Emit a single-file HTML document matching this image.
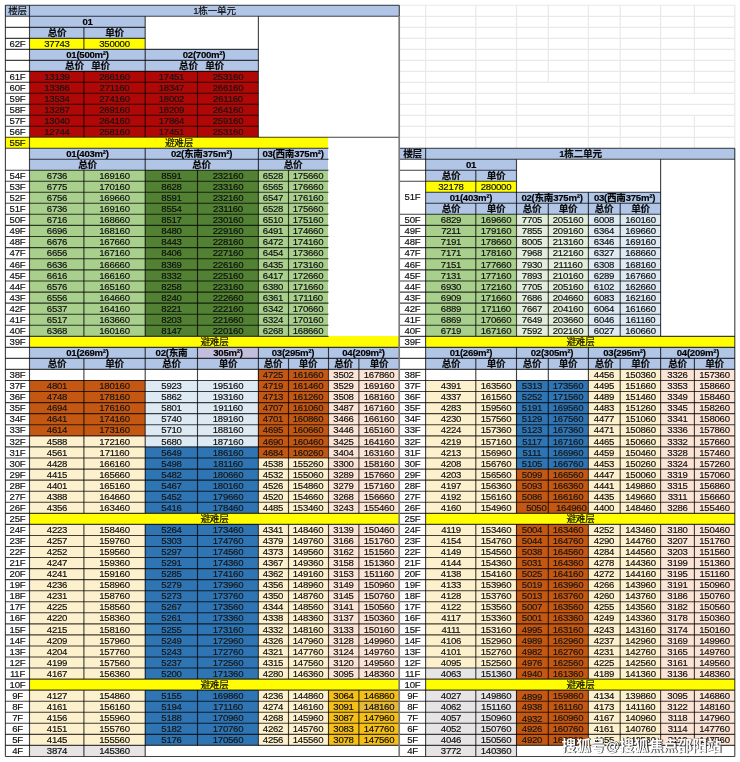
<!DOCTYPE html>
<html><head><meta charset="utf-8"><title>sheet</title>
<style>
html,body{margin:0;padding:0;background:#fff}
body{position:relative;width:740px;height:762px;overflow:hidden;font-family:"Liberation Sans","Noto Sans CJK SC",sans-serif;font-size:9.6px;line-height:11.051px;letter-spacing:-0.25px;color:#0c0c0c}
.c{position:absolute;text-align:center;white-space:nowrap;overflow:hidden;box-sizing:border-box;-webkit-text-stroke:0.16px currentColor}
.c b{font-weight:700}
.bd{font-weight:700;color:#000}
.dk{color:#141414}
.r{text-align:right;padding-right:1.5px}
.sp{display:inline-block;width:7.5px}
svg.ov{position:absolute;left:0;top:0}
#w{position:absolute;left:0;top:0;width:740px;height:762px;will-change:transform}
</style></head>
<body>
<div id="w">
<div class="c" style="left:5px;top:5px;width:25px;height:11px;background:#b1c5e6;line-height:11px;">楼层</div>
<div class="c" style="left:30px;top:5px;width:369px;height:11px;background:#b1c5e6;line-height:11px;">1栋一单元</div>
<div class="c bd" style="left:30px;top:16px;width:115px;height:11px;background:#b1c5e6;line-height:11px;">01</div>
<div class="c" style="left:30px;top:27px;width:54px;height:11px;background:#b1c5e6;line-height:11px;"><b>总价</b></div>
<div class="c" style="left:84px;top:27px;width:61px;height:11px;background:#b1c5e6;line-height:11px;"><b>单价</b></div>
<div class="c" style="left:5px;top:38px;width:25px;height:11px;line-height:11px;">62F</div>
<div class="c" style="left:30px;top:38px;width:54px;height:11px;background:#fffd00;line-height:11px;">37743</div>
<div class="c" style="left:84px;top:38px;width:61px;height:11px;background:#fffd00;line-height:11px;">350000</div>
<div class="c bd" style="left:30px;top:49px;width:115px;height:11px;background:#b1c5e6;line-height:11px;">01(500m²)</div>
<div class="c bd" style="left:145px;top:49px;width:113px;height:11px;background:#b1c5e6;line-height:11px;"><i class="sp" style="width:5px"></i>02(700m²)</div>
<div class="c sh1" style="left:30px;top:60px;width:115px;height:11px;background:#b1c5e6;line-height:11px;"><b>总价</b><i class="sp"></i><b>单价</b></div>
<div class="c sh2" style="left:145px;top:60px;width:113px;height:11px;background:#b1c5e6;line-height:11px;"><b>总价</b><i class="sp"></i><b>单价</b></div>
<div class="c" style="left:5px;top:71px;width:25px;height:11px;line-height:11px;">61F</div>
<div class="c dk" style="left:30px;top:71px;width:54px;height:11px;background:#b00806;line-height:11px;">13139</div>
<div class="c dk" style="left:84px;top:71px;width:61px;height:11px;background:#b00806;line-height:11px;">266160</div>
<div class="c dk" style="left:145px;top:71px;width:53px;height:11px;background:#b00806;line-height:11px;">17451</div>
<div class="c dk" style="left:198px;top:71px;width:60px;height:11px;background:#b00806;line-height:11px;">253160</div>
<div class="c" style="left:5px;top:82px;width:25px;height:11px;line-height:11px;">60F</div>
<div class="c dk" style="left:30px;top:82px;width:54px;height:11px;background:#b00806;line-height:11px;">13386</div>
<div class="c dk" style="left:84px;top:82px;width:61px;height:11px;background:#b00806;line-height:11px;">271160</div>
<div class="c dk" style="left:145px;top:82px;width:53px;height:11px;background:#b00806;line-height:11px;">18347</div>
<div class="c dk" style="left:198px;top:82px;width:60px;height:11px;background:#b00806;line-height:11px;">266160</div>
<div class="c" style="left:5px;top:93px;width:25px;height:11px;line-height:11px;">59F</div>
<div class="c dk" style="left:30px;top:93px;width:54px;height:11px;background:#b00806;line-height:11px;">13534</div>
<div class="c dk" style="left:84px;top:93px;width:61px;height:11px;background:#b00806;line-height:11px;">274160</div>
<div class="c dk" style="left:145px;top:93px;width:53px;height:11px;background:#b00806;line-height:11px;">18002</div>
<div class="c dk" style="left:198px;top:93px;width:60px;height:11px;background:#b00806;line-height:11px;">261160</div>
<div class="c" style="left:5px;top:104px;width:25px;height:11px;line-height:11px;">58F</div>
<div class="c dk" style="left:30px;top:104px;width:54px;height:11px;background:#b00806;line-height:11px;">13287</div>
<div class="c dk" style="left:84px;top:104px;width:61px;height:11px;background:#b00806;line-height:11px;">269160</div>
<div class="c dk" style="left:145px;top:104px;width:53px;height:11px;background:#b00806;line-height:11px;">18209</div>
<div class="c dk" style="left:198px;top:104px;width:60px;height:11px;background:#b00806;line-height:11px;">264160</div>
<div class="c" style="left:5px;top:115px;width:25px;height:11px;line-height:11px;">57F</div>
<div class="c dk" style="left:30px;top:115px;width:54px;height:11px;background:#b00806;line-height:11px;">13040</div>
<div class="c dk" style="left:84px;top:115px;width:61px;height:11px;background:#b00806;line-height:11px;">264160</div>
<div class="c dk" style="left:145px;top:115px;width:53px;height:11px;background:#b00806;line-height:11px;">17864</div>
<div class="c dk" style="left:198px;top:115px;width:60px;height:11px;background:#b00806;line-height:11px;">259160</div>
<div class="c" style="left:5px;top:126px;width:25px;height:11px;line-height:11px;">56F</div>
<div class="c dk" style="left:30px;top:126px;width:54px;height:11px;background:#b00806;line-height:11px;">12744</div>
<div class="c dk" style="left:84px;top:126px;width:61px;height:11px;background:#b00806;line-height:11px;">258160</div>
<div class="c dk" style="left:145px;top:126px;width:53px;height:11px;background:#b00806;line-height:11px;">17451</div>
<div class="c dk" style="left:198px;top:126px;width:60px;height:11px;background:#b00806;line-height:11px;">253160</div>
<div class="c" style="left:5px;top:137px;width:25px;height:11px;background:#fffd00;line-height:11px;">55F</div>
<div class="c" style="left:30px;top:137px;width:298px;height:11px;background:#fffd00;line-height:11px;">避难层</div>
<div class="c bd" style="left:30px;top:148px;width:115px;height:11px;background:#b1c5e6;line-height:11px;">01(403m²)</div>
<div class="c bd" style="left:145px;top:148px;width:113px;height:11px;background:#b1c5e6;line-height:11px;">02(东南375m²)</div>
<div class="c bd" style="left:258px;top:148px;width:70px;height:11px;background:#b1c5e6;line-height:11px;">03(西南375m²)</div>
<div class="c" style="left:30px;top:159px;width:115px;height:11px;background:#b1c5e6;line-height:11px;"><b>总价</b></div>
<div class="c" style="left:145px;top:159px;width:113px;height:11px;background:#b1c5e6;line-height:11px;"><b>总价</b></div>
<div class="c" style="left:258px;top:159px;width:70px;height:11px;background:#b1c5e6;line-height:11px;"><b>总价</b></div>
<div class="c" style="left:5px;top:170px;width:25px;height:11px;line-height:11px;">54F</div>
<div class="c" style="left:30px;top:170px;width:54px;height:11px;background:#a9cf8d;line-height:11px;">6736</div>
<div class="c" style="left:84px;top:170px;width:61px;height:11px;background:#a9cf8d;line-height:11px;">169160</div>
<div class="c" style="left:145px;top:170px;width:53px;height:11px;background:#528133;line-height:11px;">8591</div>
<div class="c" style="left:198px;top:170px;width:60px;height:11px;background:#528133;line-height:11px;">232160</div>
<div class="c" style="left:258px;top:170px;width:30px;height:11px;background:#a9cf8d;line-height:11px;">6528</div>
<div class="c" style="left:288px;top:170px;width:40px;height:11px;background:#a9cf8d;line-height:11px;">175660</div>
<div class="c" style="left:5px;top:181px;width:25px;height:11px;line-height:11px;">53F</div>
<div class="c" style="left:30px;top:181px;width:54px;height:11px;background:#a9cf8d;line-height:11px;">6775</div>
<div class="c" style="left:84px;top:181px;width:61px;height:11px;background:#a9cf8d;line-height:11px;">170160</div>
<div class="c" style="left:145px;top:181px;width:53px;height:11px;background:#528133;line-height:11px;">8628</div>
<div class="c" style="left:198px;top:181px;width:60px;height:11px;background:#528133;line-height:11px;">233160</div>
<div class="c" style="left:258px;top:181px;width:30px;height:11px;background:#a9cf8d;line-height:11px;">6565</div>
<div class="c" style="left:288px;top:181px;width:40px;height:11px;background:#a9cf8d;line-height:11px;">176660</div>
<div class="c" style="left:5px;top:192px;width:25px;height:11px;line-height:11px;">52F</div>
<div class="c" style="left:30px;top:192px;width:54px;height:11px;background:#a9cf8d;line-height:11px;">6756</div>
<div class="c" style="left:84px;top:192px;width:61px;height:11px;background:#a9cf8d;line-height:11px;">169660</div>
<div class="c" style="left:145px;top:192px;width:53px;height:11px;background:#528133;line-height:11px;">8591</div>
<div class="c" style="left:198px;top:192px;width:60px;height:11px;background:#528133;line-height:11px;">232160</div>
<div class="c" style="left:258px;top:192px;width:30px;height:11px;background:#a9cf8d;line-height:11px;">6547</div>
<div class="c" style="left:288px;top:192px;width:40px;height:11px;background:#a9cf8d;line-height:11px;">176160</div>
<div class="c" style="left:5px;top:203px;width:25px;height:11px;line-height:11px;">51F</div>
<div class="c" style="left:30px;top:203px;width:54px;height:11px;background:#a9cf8d;line-height:11px;">6736</div>
<div class="c" style="left:84px;top:203px;width:61px;height:11px;background:#a9cf8d;line-height:11px;">169160</div>
<div class="c" style="left:145px;top:203px;width:53px;height:11px;background:#528133;line-height:11px;">8554</div>
<div class="c" style="left:198px;top:203px;width:60px;height:11px;background:#528133;line-height:11px;">231160</div>
<div class="c" style="left:258px;top:203px;width:30px;height:11px;background:#a9cf8d;line-height:11px;">6528</div>
<div class="c" style="left:288px;top:203px;width:40px;height:11px;background:#a9cf8d;line-height:11px;">175660</div>
<div class="c" style="left:5px;top:214px;width:25px;height:11px;line-height:11px;">50F</div>
<div class="c" style="left:30px;top:214px;width:54px;height:11px;background:#a9cf8d;line-height:11px;">6716</div>
<div class="c" style="left:84px;top:214px;width:61px;height:11px;background:#a9cf8d;line-height:11px;">168660</div>
<div class="c" style="left:145px;top:214px;width:53px;height:11px;background:#528133;line-height:11px;">8517</div>
<div class="c" style="left:198px;top:214px;width:60px;height:11px;background:#528133;line-height:11px;">230160</div>
<div class="c" style="left:258px;top:214px;width:30px;height:11px;background:#a9cf8d;line-height:11px;">6510</div>
<div class="c" style="left:288px;top:214px;width:40px;height:11px;background:#a9cf8d;line-height:11px;">175160</div>
<div class="c" style="left:5px;top:225px;width:25px;height:12px;line-height:11px;">49F</div>
<div class="c" style="left:30px;top:225px;width:54px;height:12px;background:#a9cf8d;line-height:11px;">6696</div>
<div class="c" style="left:84px;top:225px;width:61px;height:12px;background:#a9cf8d;line-height:11px;">168160</div>
<div class="c" style="left:145px;top:225px;width:53px;height:12px;background:#528133;line-height:11px;">8480</div>
<div class="c" style="left:198px;top:225px;width:60px;height:12px;background:#528133;line-height:11px;">229160</div>
<div class="c" style="left:258px;top:225px;width:30px;height:12px;background:#a9cf8d;line-height:11px;">6491</div>
<div class="c" style="left:288px;top:225px;width:40px;height:12px;background:#a9cf8d;line-height:11px;">174660</div>
<div class="c" style="left:5px;top:237px;width:25px;height:11px;line-height:9px;">48F</div>
<div class="c" style="left:30px;top:237px;width:54px;height:11px;background:#a9cf8d;line-height:9px;">6676</div>
<div class="c" style="left:84px;top:237px;width:61px;height:11px;background:#a9cf8d;line-height:9px;">167660</div>
<div class="c" style="left:145px;top:237px;width:53px;height:11px;background:#528133;line-height:9px;">8443</div>
<div class="c" style="left:198px;top:237px;width:60px;height:11px;background:#528133;line-height:9px;">228160</div>
<div class="c" style="left:258px;top:237px;width:30px;height:11px;background:#a9cf8d;line-height:9px;">6472</div>
<div class="c" style="left:288px;top:237px;width:40px;height:11px;background:#a9cf8d;line-height:9px;">174160</div>
<div class="c" style="left:5px;top:248px;width:25px;height:11px;line-height:9px;">47F</div>
<div class="c" style="left:30px;top:248px;width:54px;height:11px;background:#a9cf8d;line-height:9px;">6656</div>
<div class="c" style="left:84px;top:248px;width:61px;height:11px;background:#a9cf8d;line-height:9px;">167160</div>
<div class="c" style="left:145px;top:248px;width:53px;height:11px;background:#528133;line-height:9px;">8406</div>
<div class="c" style="left:198px;top:248px;width:60px;height:11px;background:#528133;line-height:9px;">227160</div>
<div class="c" style="left:258px;top:248px;width:30px;height:11px;background:#a9cf8d;line-height:9px;">6454</div>
<div class="c" style="left:288px;top:248px;width:40px;height:11px;background:#a9cf8d;line-height:9px;">173660</div>
<div class="c" style="left:5px;top:259px;width:25px;height:11px;line-height:11px;">46F</div>
<div class="c" style="left:30px;top:259px;width:54px;height:11px;background:#a9cf8d;line-height:11px;">6636</div>
<div class="c" style="left:84px;top:259px;width:61px;height:11px;background:#a9cf8d;line-height:11px;">166660</div>
<div class="c" style="left:145px;top:259px;width:53px;height:11px;background:#528133;line-height:11px;">8369</div>
<div class="c" style="left:198px;top:259px;width:60px;height:11px;background:#528133;line-height:11px;">226160</div>
<div class="c" style="left:258px;top:259px;width:30px;height:11px;background:#a9cf8d;line-height:11px;">6435</div>
<div class="c" style="left:288px;top:259px;width:40px;height:11px;background:#a9cf8d;line-height:11px;">173160</div>
<div class="c" style="left:5px;top:270px;width:25px;height:11px;line-height:11px;">45F</div>
<div class="c" style="left:30px;top:270px;width:54px;height:11px;background:#a9cf8d;line-height:11px;">6616</div>
<div class="c" style="left:84px;top:270px;width:61px;height:11px;background:#a9cf8d;line-height:11px;">166160</div>
<div class="c" style="left:145px;top:270px;width:53px;height:11px;background:#528133;line-height:11px;">8332</div>
<div class="c" style="left:198px;top:270px;width:60px;height:11px;background:#528133;line-height:11px;">225160</div>
<div class="c" style="left:258px;top:270px;width:30px;height:11px;background:#a9cf8d;line-height:11px;">6417</div>
<div class="c" style="left:288px;top:270px;width:40px;height:11px;background:#a9cf8d;line-height:11px;">172660</div>
<div class="c" style="left:5px;top:281px;width:25px;height:11px;line-height:11px;">44F</div>
<div class="c" style="left:30px;top:281px;width:54px;height:11px;background:#a9cf8d;line-height:11px;">6576</div>
<div class="c" style="left:84px;top:281px;width:61px;height:11px;background:#a9cf8d;line-height:11px;">165160</div>
<div class="c" style="left:145px;top:281px;width:53px;height:11px;background:#528133;line-height:11px;">8258</div>
<div class="c" style="left:198px;top:281px;width:60px;height:11px;background:#528133;line-height:11px;">223160</div>
<div class="c" style="left:258px;top:281px;width:30px;height:11px;background:#a9cf8d;line-height:11px;">6380</div>
<div class="c" style="left:288px;top:281px;width:40px;height:11px;background:#a9cf8d;line-height:11px;">171660</div>
<div class="c" style="left:5px;top:292px;width:25px;height:11px;line-height:11px;">43F</div>
<div class="c" style="left:30px;top:292px;width:54px;height:11px;background:#a9cf8d;line-height:11px;">6556</div>
<div class="c" style="left:84px;top:292px;width:61px;height:11px;background:#a9cf8d;line-height:11px;">164660</div>
<div class="c" style="left:145px;top:292px;width:53px;height:11px;background:#528133;line-height:11px;">8240</div>
<div class="c" style="left:198px;top:292px;width:60px;height:11px;background:#528133;line-height:11px;">222660</div>
<div class="c" style="left:258px;top:292px;width:30px;height:11px;background:#a9cf8d;line-height:11px;">6361</div>
<div class="c" style="left:288px;top:292px;width:40px;height:11px;background:#a9cf8d;line-height:11px;">171160</div>
<div class="c" style="left:5px;top:303px;width:25px;height:11px;line-height:11px;">42F</div>
<div class="c" style="left:30px;top:303px;width:54px;height:11px;background:#a9cf8d;line-height:11px;">6537</div>
<div class="c" style="left:84px;top:303px;width:61px;height:11px;background:#a9cf8d;line-height:11px;">164160</div>
<div class="c" style="left:145px;top:303px;width:53px;height:11px;background:#528133;line-height:11px;">8221</div>
<div class="c" style="left:198px;top:303px;width:60px;height:11px;background:#528133;line-height:11px;">222160</div>
<div class="c" style="left:258px;top:303px;width:30px;height:11px;background:#a9cf8d;line-height:11px;">6342</div>
<div class="c" style="left:288px;top:303px;width:40px;height:11px;background:#a9cf8d;line-height:11px;">170660</div>
<div class="c" style="left:5px;top:314px;width:25px;height:11px;line-height:11px;">41F</div>
<div class="c" style="left:30px;top:314px;width:54px;height:11px;background:#a9cf8d;line-height:11px;">6517</div>
<div class="c" style="left:84px;top:314px;width:61px;height:11px;background:#a9cf8d;line-height:11px;">163660</div>
<div class="c" style="left:145px;top:314px;width:53px;height:11px;background:#528133;line-height:11px;">8203</div>
<div class="c" style="left:198px;top:314px;width:60px;height:11px;background:#528133;line-height:11px;">221660</div>
<div class="c" style="left:258px;top:314px;width:30px;height:11px;background:#a9cf8d;line-height:11px;">6324</div>
<div class="c" style="left:288px;top:314px;width:40px;height:11px;background:#a9cf8d;line-height:11px;">170160</div>
<div class="c" style="left:5px;top:325px;width:25px;height:11px;line-height:11px;">40F</div>
<div class="c" style="left:30px;top:325px;width:54px;height:11px;background:#a9cf8d;line-height:11px;">6368</div>
<div class="c" style="left:84px;top:325px;width:61px;height:11px;background:#a9cf8d;line-height:11px;">160160</div>
<div class="c" style="left:145px;top:325px;width:53px;height:11px;background:#528133;line-height:11px;">8147</div>
<div class="c" style="left:198px;top:325px;width:60px;height:11px;background:#528133;line-height:11px;">220160</div>
<div class="c" style="left:258px;top:325px;width:30px;height:11px;background:#a9cf8d;line-height:11px;">6268</div>
<div class="c" style="left:288px;top:325px;width:40px;height:11px;background:#a9cf8d;line-height:11px;">168660</div>
<div class="c" style="left:5px;top:336px;width:25px;height:11px;line-height:11px;">39F</div>
<div class="c" style="left:30px;top:336px;width:369px;height:11px;background:#fffd00;line-height:11px;">避难层</div>
<div class="c bd" style="left:30px;top:347px;width:115px;height:11px;background:#b1c5e6;line-height:11px;">01(269m²)</div>
<div class="c bd" style="left:145px;top:347px;width:53px;height:11px;background:#b1c5e6;line-height:11px;">02(东南</div>
<div class="c bd" style="left:198px;top:347px;width:60px;height:11px;background:#c3bedc;line-height:11px;">305m²)</div>
<div class="c bd" style="left:258px;top:347px;width:70px;height:11px;background:#b1c5e6;line-height:11px;">03(295m²)</div>
<div class="c bd" style="left:328px;top:347px;width:71px;height:11px;background:#b1c5e6;line-height:11px;">04(209m²)</div>
<div class="c" style="left:30px;top:358px;width:54px;height:11px;background:#b1c5e6;line-height:11px;"><b>总价</b></div>
<div class="c" style="left:84px;top:358px;width:61px;height:11px;background:#b1c5e6;line-height:11px;"><b>单价</b></div>
<div class="c" style="left:145px;top:358px;width:53px;height:11px;background:#b1c5e6;line-height:11px;"><b>总价</b></div>
<div class="c" style="left:198px;top:358px;width:60px;height:11px;background:#b1c5e6;line-height:11px;"><b>单价</b></div>
<div class="c" style="left:258px;top:358px;width:30px;height:11px;background:#b1c5e6;line-height:11px;"><b>总价</b></div>
<div class="c" style="left:288px;top:358px;width:40px;height:11px;background:#b1c5e6;line-height:11px;"><b>单价</b></div>
<div class="c" style="left:328px;top:358px;width:31px;height:11px;background:#b1c5e6;line-height:11px;"><b>总价</b></div>
<div class="c" style="left:359px;top:358px;width:40px;height:11px;background:#b1c5e6;line-height:11px;"><b>单价</b></div>
<div class="c" style="left:5px;top:369px;width:25px;height:11px;line-height:11px;">38F</div>
<div class="c dk" style="left:258px;top:369px;width:30px;height:11px;background:#c45812;line-height:11px;">4725</div>
<div class="c dk" style="left:288px;top:369px;width:40px;height:11px;background:#c45812;line-height:11px;">161660</div>
<div class="c" style="left:328px;top:369px;width:31px;height:11px;background:#fbe3d5;line-height:11px;">3502</div>
<div class="c" style="left:359px;top:369px;width:40px;height:11px;background:#fbe3d5;line-height:11px;">167860</div>
<div class="c" style="left:5px;top:380px;width:25px;height:12px;line-height:11px;">37F</div>
<div class="c dk" style="left:30px;top:380px;width:54px;height:12px;background:#c45812;line-height:11px;">4801</div>
<div class="c dk" style="left:84px;top:380px;width:61px;height:12px;background:#c45812;line-height:11px;">180160</div>
<div class="c" style="left:145px;top:380px;width:53px;height:12px;background:#dde9f3;line-height:11px;">5923</div>
<div class="c" style="left:198px;top:380px;width:60px;height:12px;background:#dde9f3;line-height:11px;">195160</div>
<div class="c dk" style="left:258px;top:380px;width:30px;height:12px;background:#c45812;line-height:11px;">4719</div>
<div class="c dk" style="left:288px;top:380px;width:40px;height:12px;background:#c45812;line-height:11px;">161460</div>
<div class="c" style="left:328px;top:380px;width:31px;height:12px;background:#fbe3d5;line-height:11px;">3529</div>
<div class="c" style="left:359px;top:380px;width:40px;height:12px;background:#fbe3d5;line-height:11px;">169160</div>
<div class="c" style="left:5px;top:392px;width:25px;height:11px;line-height:9px;">36F</div>
<div class="c dk" style="left:30px;top:392px;width:54px;height:11px;background:#c45812;line-height:9px;">4748</div>
<div class="c dk" style="left:84px;top:392px;width:61px;height:11px;background:#c45812;line-height:9px;">178160</div>
<div class="c" style="left:145px;top:392px;width:53px;height:11px;background:#dde9f3;line-height:9px;">5862</div>
<div class="c" style="left:198px;top:392px;width:60px;height:11px;background:#dde9f3;line-height:9px;">193160</div>
<div class="c dk" style="left:258px;top:392px;width:30px;height:11px;background:#c45812;line-height:9px;">4713</div>
<div class="c dk" style="left:288px;top:392px;width:40px;height:11px;background:#c45812;line-height:9px;">161260</div>
<div class="c" style="left:328px;top:392px;width:31px;height:11px;background:#fbe3d5;line-height:9px;">3508</div>
<div class="c" style="left:359px;top:392px;width:40px;height:11px;background:#fbe3d5;line-height:9px;">168160</div>
<div class="c" style="left:5px;top:403px;width:25px;height:11px;line-height:9px;">35F</div>
<div class="c dk" style="left:30px;top:403px;width:54px;height:11px;background:#c45812;line-height:9px;">4694</div>
<div class="c dk" style="left:84px;top:403px;width:61px;height:11px;background:#c45812;line-height:9px;">176160</div>
<div class="c" style="left:145px;top:403px;width:53px;height:11px;background:#dde9f3;line-height:9px;">5801</div>
<div class="c" style="left:198px;top:403px;width:60px;height:11px;background:#dde9f3;line-height:9px;">191160</div>
<div class="c dk" style="left:258px;top:403px;width:30px;height:11px;background:#c45812;line-height:9px;">4707</div>
<div class="c dk" style="left:288px;top:403px;width:40px;height:11px;background:#c45812;line-height:9px;">161060</div>
<div class="c" style="left:328px;top:403px;width:31px;height:11px;background:#fbe3d5;line-height:9px;">3487</div>
<div class="c" style="left:359px;top:403px;width:40px;height:11px;background:#fbe3d5;line-height:9px;">167160</div>
<div class="c" style="left:5px;top:414px;width:25px;height:11px;line-height:9px;">34F</div>
<div class="c dk" style="left:30px;top:414px;width:54px;height:11px;background:#c45812;line-height:9px;">4641</div>
<div class="c dk" style="left:84px;top:414px;width:61px;height:11px;background:#c45812;line-height:9px;">174160</div>
<div class="c" style="left:145px;top:414px;width:53px;height:11px;background:#dde9f3;line-height:9px;">5740</div>
<div class="c" style="left:198px;top:414px;width:60px;height:11px;background:#dde9f3;line-height:9px;">189160</div>
<div class="c dk" style="left:258px;top:414px;width:30px;height:11px;background:#c45812;line-height:9px;">4701</div>
<div class="c dk" style="left:288px;top:414px;width:40px;height:11px;background:#c45812;line-height:9px;">160860</div>
<div class="c" style="left:328px;top:414px;width:31px;height:11px;background:#fbe3d5;line-height:9px;">3466</div>
<div class="c" style="left:359px;top:414px;width:40px;height:11px;background:#fbe3d5;line-height:9px;">166160</div>
<div class="c" style="left:5px;top:425px;width:25px;height:11px;line-height:9px;">33F</div>
<div class="c dk" style="left:30px;top:425px;width:54px;height:11px;background:#c45812;line-height:9px;">4614</div>
<div class="c dk" style="left:84px;top:425px;width:61px;height:11px;background:#c45812;line-height:9px;">173160</div>
<div class="c" style="left:145px;top:425px;width:53px;height:11px;background:#dde9f3;line-height:9px;">5710</div>
<div class="c" style="left:198px;top:425px;width:60px;height:11px;background:#dde9f3;line-height:9px;">188160</div>
<div class="c dk" style="left:258px;top:425px;width:30px;height:11px;background:#c45812;line-height:9px;">4695</div>
<div class="c dk" style="left:288px;top:425px;width:40px;height:11px;background:#c45812;line-height:9px;">160660</div>
<div class="c" style="left:328px;top:425px;width:31px;height:11px;background:#fbe3d5;line-height:9px;">3446</div>
<div class="c" style="left:359px;top:425px;width:40px;height:11px;background:#fbe3d5;line-height:9px;">165160</div>
<div class="c" style="left:5px;top:436px;width:25px;height:11px;line-height:11px;">32F</div>
<div class="c" style="left:30px;top:436px;width:54px;height:11px;background:#fdf0cd;line-height:11px;">4588</div>
<div class="c" style="left:84px;top:436px;width:61px;height:11px;background:#fdf0cd;line-height:11px;">172160</div>
<div class="c" style="left:145px;top:436px;width:53px;height:11px;background:#dde9f3;line-height:11px;">5680</div>
<div class="c" style="left:198px;top:436px;width:60px;height:11px;background:#dde9f3;line-height:11px;">187160</div>
<div class="c dk" style="left:258px;top:436px;width:30px;height:11px;background:#c45812;line-height:11px;">4690</div>
<div class="c dk" style="left:288px;top:436px;width:40px;height:11px;background:#c45812;line-height:11px;">160460</div>
<div class="c" style="left:328px;top:436px;width:31px;height:11px;background:#fbe3d5;line-height:11px;">3425</div>
<div class="c" style="left:359px;top:436px;width:40px;height:11px;background:#fbe3d5;line-height:11px;">164160</div>
<div class="c" style="left:5px;top:447px;width:25px;height:11px;line-height:11px;">31F</div>
<div class="c" style="left:30px;top:447px;width:54px;height:11px;background:#fdf0cd;line-height:11px;">4561</div>
<div class="c" style="left:84px;top:447px;width:61px;height:11px;background:#fdf0cd;line-height:11px;">171160</div>
<div class="c dk" style="left:145px;top:447px;width:53px;height:11px;background:#2f74b3;line-height:11px;">5649</div>
<div class="c dk" style="left:198px;top:447px;width:60px;height:11px;background:#2f74b3;line-height:11px;">186160</div>
<div class="c dk" style="left:258px;top:447px;width:30px;height:11px;background:#c45812;line-height:11px;">4684</div>
<div class="c dk" style="left:288px;top:447px;width:40px;height:11px;background:#c45812;line-height:11px;">160260</div>
<div class="c" style="left:328px;top:447px;width:31px;height:11px;background:#fbe3d5;line-height:11px;">3404</div>
<div class="c" style="left:359px;top:447px;width:40px;height:11px;background:#fbe3d5;line-height:11px;">163160</div>
<div class="c" style="left:5px;top:458px;width:25px;height:11px;line-height:11px;">30F</div>
<div class="c" style="left:30px;top:458px;width:54px;height:11px;background:#fdf0cd;line-height:11px;">4428</div>
<div class="c" style="left:84px;top:458px;width:61px;height:11px;background:#fdf0cd;line-height:11px;">166160</div>
<div class="c dk" style="left:145px;top:458px;width:53px;height:11px;background:#2f74b3;line-height:11px;">5498</div>
<div class="c dk" style="left:198px;top:458px;width:60px;height:11px;background:#2f74b3;line-height:11px;">181160</div>
<div class="c" style="left:258px;top:458px;width:30px;height:11px;background:#fdf0cd;line-height:11px;">4538</div>
<div class="c" style="left:288px;top:458px;width:40px;height:11px;background:#fdf0cd;line-height:11px;">155260</div>
<div class="c" style="left:328px;top:458px;width:31px;height:11px;background:#fbe3d5;line-height:11px;">3300</div>
<div class="c" style="left:359px;top:458px;width:40px;height:11px;background:#fbe3d5;line-height:11px;">158160</div>
<div class="c" style="left:5px;top:469px;width:25px;height:11px;line-height:11px;">29F</div>
<div class="c" style="left:30px;top:469px;width:54px;height:11px;background:#fdf0cd;line-height:11px;">4415</div>
<div class="c" style="left:84px;top:469px;width:61px;height:11px;background:#fdf0cd;line-height:11px;">165660</div>
<div class="c dk" style="left:145px;top:469px;width:53px;height:11px;background:#2f74b3;line-height:11px;">5482</div>
<div class="c dk" style="left:198px;top:469px;width:60px;height:11px;background:#2f74b3;line-height:11px;">180660</div>
<div class="c" style="left:258px;top:469px;width:30px;height:11px;background:#fdf0cd;line-height:11px;">4532</div>
<div class="c" style="left:288px;top:469px;width:40px;height:11px;background:#fdf0cd;line-height:11px;">155060</div>
<div class="c" style="left:328px;top:469px;width:31px;height:11px;background:#fbe3d5;line-height:11px;">3289</div>
<div class="c" style="left:359px;top:469px;width:40px;height:11px;background:#fbe3d5;line-height:11px;">157660</div>
<div class="c" style="left:5px;top:480px;width:25px;height:11px;line-height:11px;">28F</div>
<div class="c" style="left:30px;top:480px;width:54px;height:11px;background:#fdf0cd;line-height:11px;">4401</div>
<div class="c" style="left:84px;top:480px;width:61px;height:11px;background:#fdf0cd;line-height:11px;">165160</div>
<div class="c dk" style="left:145px;top:480px;width:53px;height:11px;background:#2f74b3;line-height:11px;">5467</div>
<div class="c dk" style="left:198px;top:480px;width:60px;height:11px;background:#2f74b3;line-height:11px;">180160</div>
<div class="c" style="left:258px;top:480px;width:30px;height:11px;background:#fdf0cd;line-height:11px;">4526</div>
<div class="c" style="left:288px;top:480px;width:40px;height:11px;background:#fdf0cd;line-height:11px;">154860</div>
<div class="c" style="left:328px;top:480px;width:31px;height:11px;background:#fbe3d5;line-height:11px;">3279</div>
<div class="c" style="left:359px;top:480px;width:40px;height:11px;background:#fbe3d5;line-height:11px;">157160</div>
<div class="c" style="left:5px;top:491px;width:25px;height:11px;line-height:11px;">27F</div>
<div class="c" style="left:30px;top:491px;width:54px;height:11px;background:#fdf0cd;line-height:11px;">4388</div>
<div class="c" style="left:84px;top:491px;width:61px;height:11px;background:#fdf0cd;line-height:11px;">164660</div>
<div class="c dk" style="left:145px;top:491px;width:53px;height:11px;background:#2f74b3;line-height:11px;">5452</div>
<div class="c dk" style="left:198px;top:491px;width:60px;height:11px;background:#2f74b3;line-height:11px;">179660</div>
<div class="c" style="left:258px;top:491px;width:30px;height:11px;background:#fdf0cd;line-height:11px;">4520</div>
<div class="c" style="left:288px;top:491px;width:40px;height:11px;background:#fdf0cd;line-height:11px;">154660</div>
<div class="c" style="left:328px;top:491px;width:31px;height:11px;background:#fbe3d5;line-height:11px;">3268</div>
<div class="c" style="left:359px;top:491px;width:40px;height:11px;background:#fbe3d5;line-height:11px;">156660</div>
<div class="c" style="left:5px;top:502px;width:25px;height:11px;line-height:11px;">26F</div>
<div class="c" style="left:30px;top:502px;width:54px;height:11px;background:#fdf0cd;line-height:11px;">4356</div>
<div class="c" style="left:84px;top:502px;width:61px;height:11px;background:#fdf0cd;line-height:11px;">163460</div>
<div class="c dk" style="left:145px;top:502px;width:53px;height:11px;background:#2f74b3;line-height:11px;">5416</div>
<div class="c dk" style="left:198px;top:502px;width:60px;height:11px;background:#2f74b3;line-height:11px;">178460</div>
<div class="c" style="left:258px;top:502px;width:30px;height:11px;background:#fdf0cd;line-height:11px;">4485</div>
<div class="c" style="left:288px;top:502px;width:40px;height:11px;background:#fdf0cd;line-height:11px;">153460</div>
<div class="c" style="left:328px;top:502px;width:31px;height:11px;background:#fbe3d5;line-height:11px;">3243</div>
<div class="c" style="left:359px;top:502px;width:40px;height:11px;background:#fbe3d5;line-height:11px;">155460</div>
<div class="c" style="left:5px;top:513px;width:25px;height:11px;line-height:11px;">25F</div>
<div class="c" style="left:30px;top:513px;width:369px;height:11px;background:#fffd00;line-height:11px;">避难层</div>
<div class="c" style="left:5px;top:524px;width:25px;height:11px;line-height:11px;">24F</div>
<div class="c" style="left:30px;top:524px;width:54px;height:11px;background:#fdf0cd;line-height:11px;">4223</div>
<div class="c" style="left:84px;top:524px;width:61px;height:11px;background:#fdf0cd;line-height:11px;">158460</div>
<div class="c dk" style="left:145px;top:524px;width:53px;height:11px;background:#2f74b3;line-height:11px;">5264</div>
<div class="c dk" style="left:198px;top:524px;width:60px;height:11px;background:#2f74b3;line-height:11px;">173460</div>
<div class="c" style="left:258px;top:524px;width:30px;height:11px;background:#fdf0cd;line-height:11px;">4341</div>
<div class="c" style="left:288px;top:524px;width:40px;height:11px;background:#fdf0cd;line-height:11px;">148460</div>
<div class="c" style="left:328px;top:524px;width:31px;height:11px;background:#fbe3d5;line-height:11px;">3139</div>
<div class="c" style="left:359px;top:524px;width:40px;height:11px;background:#fbe3d5;line-height:11px;">150460</div>
<div class="c" style="left:5px;top:535px;width:25px;height:11px;line-height:11px;">23F</div>
<div class="c" style="left:30px;top:535px;width:54px;height:11px;background:#fdf0cd;line-height:11px;">4257</div>
<div class="c" style="left:84px;top:535px;width:61px;height:11px;background:#fdf0cd;line-height:11px;">159760</div>
<div class="c dk" style="left:145px;top:535px;width:53px;height:11px;background:#2f74b3;line-height:11px;">5303</div>
<div class="c dk" style="left:198px;top:535px;width:60px;height:11px;background:#2f74b3;line-height:11px;">174760</div>
<div class="c" style="left:258px;top:535px;width:30px;height:11px;background:#fdf0cd;line-height:11px;">4379</div>
<div class="c" style="left:288px;top:535px;width:40px;height:11px;background:#fdf0cd;line-height:11px;">149760</div>
<div class="c" style="left:328px;top:535px;width:31px;height:11px;background:#fbe3d5;line-height:11px;">3166</div>
<div class="c" style="left:359px;top:535px;width:40px;height:11px;background:#fbe3d5;line-height:11px;">151760</div>
<div class="c" style="left:5px;top:546px;width:25px;height:12px;line-height:11px;">22F</div>
<div class="c" style="left:30px;top:546px;width:54px;height:12px;background:#fdf0cd;line-height:11px;">4252</div>
<div class="c" style="left:84px;top:546px;width:61px;height:12px;background:#fdf0cd;line-height:11px;">159560</div>
<div class="c dk" style="left:145px;top:546px;width:53px;height:12px;background:#2f74b3;line-height:11px;">5297</div>
<div class="c dk" style="left:198px;top:546px;width:60px;height:12px;background:#2f74b3;line-height:11px;">174560</div>
<div class="c" style="left:258px;top:546px;width:30px;height:12px;background:#fdf0cd;line-height:11px;">4373</div>
<div class="c" style="left:288px;top:546px;width:40px;height:12px;background:#fdf0cd;line-height:11px;">149560</div>
<div class="c" style="left:328px;top:546px;width:31px;height:12px;background:#fbe3d5;line-height:11px;">3162</div>
<div class="c" style="left:359px;top:546px;width:40px;height:12px;background:#fbe3d5;line-height:11px;">151560</div>
<div class="c" style="left:5px;top:558px;width:25px;height:11px;line-height:9px;">21F</div>
<div class="c" style="left:30px;top:558px;width:54px;height:11px;background:#fdf0cd;line-height:9px;">4247</div>
<div class="c" style="left:84px;top:558px;width:61px;height:11px;background:#fdf0cd;line-height:9px;">159360</div>
<div class="c dk" style="left:145px;top:558px;width:53px;height:11px;background:#2f74b3;line-height:9px;">5291</div>
<div class="c dk" style="left:198px;top:558px;width:60px;height:11px;background:#2f74b3;line-height:9px;">174360</div>
<div class="c" style="left:258px;top:558px;width:30px;height:11px;background:#fdf0cd;line-height:9px;">4367</div>
<div class="c" style="left:288px;top:558px;width:40px;height:11px;background:#fdf0cd;line-height:9px;">149360</div>
<div class="c" style="left:328px;top:558px;width:31px;height:11px;background:#fbe3d5;line-height:9px;">3158</div>
<div class="c" style="left:359px;top:558px;width:40px;height:11px;background:#fbe3d5;line-height:9px;">151360</div>
<div class="c" style="left:5px;top:569px;width:25px;height:11px;line-height:9px;">20F</div>
<div class="c" style="left:30px;top:569px;width:54px;height:11px;background:#fdf0cd;line-height:9px;">4241</div>
<div class="c" style="left:84px;top:569px;width:61px;height:11px;background:#fdf0cd;line-height:9px;">159160</div>
<div class="c dk" style="left:145px;top:569px;width:53px;height:11px;background:#2f74b3;line-height:9px;">5285</div>
<div class="c dk" style="left:198px;top:569px;width:60px;height:11px;background:#2f74b3;line-height:9px;">174160</div>
<div class="c" style="left:258px;top:569px;width:30px;height:11px;background:#fdf0cd;line-height:9px;">4362</div>
<div class="c" style="left:288px;top:569px;width:40px;height:11px;background:#fdf0cd;line-height:9px;">149160</div>
<div class="c" style="left:328px;top:569px;width:31px;height:11px;background:#fbe3d5;line-height:9px;">3153</div>
<div class="c" style="left:359px;top:569px;width:40px;height:11px;background:#fbe3d5;line-height:9px;">151160</div>
<div class="c" style="left:5px;top:580px;width:25px;height:11px;line-height:9px;">19F</div>
<div class="c" style="left:30px;top:580px;width:54px;height:11px;background:#fdf0cd;line-height:9px;">4236</div>
<div class="c" style="left:84px;top:580px;width:61px;height:11px;background:#fdf0cd;line-height:9px;">158960</div>
<div class="c dk" style="left:145px;top:580px;width:53px;height:11px;background:#2f74b3;line-height:9px;">5279</div>
<div class="c dk" style="left:198px;top:580px;width:60px;height:11px;background:#2f74b3;line-height:9px;">173960</div>
<div class="c" style="left:258px;top:580px;width:30px;height:11px;background:#fdf0cd;line-height:9px;">4356</div>
<div class="c" style="left:288px;top:580px;width:40px;height:11px;background:#fdf0cd;line-height:9px;">148960</div>
<div class="c" style="left:328px;top:580px;width:31px;height:11px;background:#fbe3d5;line-height:9px;">3149</div>
<div class="c" style="left:359px;top:580px;width:40px;height:11px;background:#fbe3d5;line-height:9px;">150960</div>
<div class="c" style="left:5px;top:591px;width:25px;height:11px;line-height:9px;">18F</div>
<div class="c" style="left:30px;top:591px;width:54px;height:11px;background:#fdf0cd;line-height:9px;">4231</div>
<div class="c" style="left:84px;top:591px;width:61px;height:11px;background:#fdf0cd;line-height:9px;">158760</div>
<div class="c dk" style="left:145px;top:591px;width:53px;height:11px;background:#2f74b3;line-height:9px;">5273</div>
<div class="c dk" style="left:198px;top:591px;width:60px;height:11px;background:#2f74b3;line-height:9px;">173760</div>
<div class="c" style="left:258px;top:591px;width:30px;height:11px;background:#fdf0cd;line-height:9px;">4350</div>
<div class="c" style="left:288px;top:591px;width:40px;height:11px;background:#fdf0cd;line-height:9px;">148760</div>
<div class="c" style="left:328px;top:591px;width:31px;height:11px;background:#fbe3d5;line-height:9px;">3145</div>
<div class="c" style="left:359px;top:591px;width:40px;height:11px;background:#fbe3d5;line-height:9px;">150760</div>
<div class="c" style="left:5px;top:602px;width:25px;height:11px;line-height:9px;">17F</div>
<div class="c" style="left:30px;top:602px;width:54px;height:11px;background:#fdf0cd;line-height:9px;">4225</div>
<div class="c" style="left:84px;top:602px;width:61px;height:11px;background:#fdf0cd;line-height:9px;">158560</div>
<div class="c dk" style="left:145px;top:602px;width:53px;height:11px;background:#2f74b3;line-height:9px;">5267</div>
<div class="c dk" style="left:198px;top:602px;width:60px;height:11px;background:#2f74b3;line-height:9px;">173560</div>
<div class="c" style="left:258px;top:602px;width:30px;height:11px;background:#fdf0cd;line-height:9px;">4344</div>
<div class="c" style="left:288px;top:602px;width:40px;height:11px;background:#fdf0cd;line-height:9px;">148560</div>
<div class="c" style="left:328px;top:602px;width:31px;height:11px;background:#fbe3d5;line-height:9px;">3141</div>
<div class="c" style="left:359px;top:602px;width:40px;height:11px;background:#fbe3d5;line-height:9px;">150560</div>
<div class="c" style="left:5px;top:613px;width:25px;height:11px;line-height:9px;">16F</div>
<div class="c" style="left:30px;top:613px;width:54px;height:11px;background:#fdf0cd;line-height:9px;">4220</div>
<div class="c" style="left:84px;top:613px;width:61px;height:11px;background:#fdf0cd;line-height:9px;">158360</div>
<div class="c dk" style="left:145px;top:613px;width:53px;height:11px;background:#2f74b3;line-height:9px;">5261</div>
<div class="c dk" style="left:198px;top:613px;width:60px;height:11px;background:#2f74b3;line-height:9px;">173360</div>
<div class="c" style="left:258px;top:613px;width:30px;height:11px;background:#fdf0cd;line-height:9px;">4338</div>
<div class="c" style="left:288px;top:613px;width:40px;height:11px;background:#fdf0cd;line-height:9px;">148360</div>
<div class="c" style="left:328px;top:613px;width:31px;height:11px;background:#fbe3d5;line-height:9px;">3137</div>
<div class="c" style="left:359px;top:613px;width:40px;height:11px;background:#fbe3d5;line-height:9px;">150360</div>
<div class="c" style="left:5px;top:624px;width:25px;height:11px;line-height:11px;">15F</div>
<div class="c" style="left:30px;top:624px;width:54px;height:11px;background:#fdf0cd;line-height:11px;">4215</div>
<div class="c" style="left:84px;top:624px;width:61px;height:11px;background:#fdf0cd;line-height:11px;">158160</div>
<div class="c dk" style="left:145px;top:624px;width:53px;height:11px;background:#2f74b3;line-height:11px;">5255</div>
<div class="c dk" style="left:198px;top:624px;width:60px;height:11px;background:#2f74b3;line-height:11px;">173160</div>
<div class="c" style="left:258px;top:624px;width:30px;height:11px;background:#fdf0cd;line-height:11px;">4332</div>
<div class="c" style="left:288px;top:624px;width:40px;height:11px;background:#fdf0cd;line-height:11px;">148160</div>
<div class="c" style="left:328px;top:624px;width:31px;height:11px;background:#fbe3d5;line-height:11px;">3133</div>
<div class="c" style="left:359px;top:624px;width:40px;height:11px;background:#fbe3d5;line-height:11px;">150160</div>
<div class="c" style="left:5px;top:635px;width:25px;height:11px;line-height:11px;">14F</div>
<div class="c" style="left:30px;top:635px;width:54px;height:11px;background:#fdf0cd;line-height:11px;">4209</div>
<div class="c" style="left:84px;top:635px;width:61px;height:11px;background:#fdf0cd;line-height:11px;">157960</div>
<div class="c dk" style="left:145px;top:635px;width:53px;height:11px;background:#2f74b3;line-height:11px;">5249</div>
<div class="c dk" style="left:198px;top:635px;width:60px;height:11px;background:#2f74b3;line-height:11px;">172960</div>
<div class="c" style="left:258px;top:635px;width:30px;height:11px;background:#fdf0cd;line-height:11px;">4326</div>
<div class="c" style="left:288px;top:635px;width:40px;height:11px;background:#fdf0cd;line-height:11px;">147960</div>
<div class="c" style="left:328px;top:635px;width:31px;height:11px;background:#fbe3d5;line-height:11px;">3128</div>
<div class="c" style="left:359px;top:635px;width:40px;height:11px;background:#fbe3d5;line-height:11px;">149960</div>
<div class="c" style="left:5px;top:646px;width:25px;height:11px;line-height:11px;">13F</div>
<div class="c" style="left:30px;top:646px;width:54px;height:11px;background:#fdf0cd;line-height:11px;">4204</div>
<div class="c" style="left:84px;top:646px;width:61px;height:11px;background:#fdf0cd;line-height:11px;">157760</div>
<div class="c dk" style="left:145px;top:646px;width:53px;height:11px;background:#2f74b3;line-height:11px;">5243</div>
<div class="c dk" style="left:198px;top:646px;width:60px;height:11px;background:#2f74b3;line-height:11px;">172760</div>
<div class="c" style="left:258px;top:646px;width:30px;height:11px;background:#fdf0cd;line-height:11px;">4321</div>
<div class="c" style="left:288px;top:646px;width:40px;height:11px;background:#fdf0cd;line-height:11px;">147760</div>
<div class="c" style="left:328px;top:646px;width:31px;height:11px;background:#fbe3d5;line-height:11px;">3124</div>
<div class="c" style="left:359px;top:646px;width:40px;height:11px;background:#fbe3d5;line-height:11px;">149760</div>
<div class="c" style="left:5px;top:657px;width:25px;height:11px;line-height:11px;">12F</div>
<div class="c" style="left:30px;top:657px;width:54px;height:11px;background:#fdf0cd;line-height:11px;">4199</div>
<div class="c" style="left:84px;top:657px;width:61px;height:11px;background:#fdf0cd;line-height:11px;">157560</div>
<div class="c dk" style="left:145px;top:657px;width:53px;height:11px;background:#2f74b3;line-height:11px;">5237</div>
<div class="c dk" style="left:198px;top:657px;width:60px;height:11px;background:#2f74b3;line-height:11px;">172560</div>
<div class="c" style="left:258px;top:657px;width:30px;height:11px;background:#fdf0cd;line-height:11px;">4315</div>
<div class="c" style="left:288px;top:657px;width:40px;height:11px;background:#fdf0cd;line-height:11px;">147560</div>
<div class="c" style="left:328px;top:657px;width:31px;height:11px;background:#fbe3d5;line-height:11px;">3120</div>
<div class="c" style="left:359px;top:657px;width:40px;height:11px;background:#fbe3d5;line-height:11px;">149560</div>
<div class="c" style="left:5px;top:668px;width:25px;height:11px;line-height:11px;">11F</div>
<div class="c" style="left:30px;top:668px;width:54px;height:11px;background:#fdf0cd;line-height:11px;">4167</div>
<div class="c" style="left:84px;top:668px;width:61px;height:11px;background:#fdf0cd;line-height:11px;">156360</div>
<div class="c dk" style="left:145px;top:668px;width:53px;height:11px;background:#2f74b3;line-height:11px;">5200</div>
<div class="c dk" style="left:198px;top:668px;width:60px;height:11px;background:#2f74b3;line-height:11px;">171360</div>
<div class="c" style="left:258px;top:668px;width:30px;height:11px;background:#fdf0cd;line-height:11px;">4280</div>
<div class="c" style="left:288px;top:668px;width:40px;height:11px;background:#fdf0cd;line-height:11px;">146360</div>
<div class="c" style="left:328px;top:668px;width:31px;height:11px;background:#fbe3d5;line-height:11px;">3095</div>
<div class="c" style="left:359px;top:668px;width:40px;height:11px;background:#fbe3d5;line-height:11px;">148360</div>
<div class="c" style="left:5px;top:679px;width:25px;height:11px;line-height:11px;">10F</div>
<div class="c" style="left:30px;top:679px;width:369px;height:11px;background:#fffd00;line-height:11px;">避难层</div>
<div class="c" style="left:5px;top:690px;width:25px;height:11px;line-height:11px;">9F</div>
<div class="c" style="left:30px;top:690px;width:54px;height:11px;background:#fdf0cd;line-height:11px;">4127</div>
<div class="c" style="left:84px;top:690px;width:61px;height:11px;background:#fdf0cd;line-height:11px;">154860</div>
<div class="c dk" style="left:145px;top:690px;width:53px;height:11px;background:#2f74b3;line-height:11px;">5155</div>
<div class="c dk" style="left:198px;top:690px;width:60px;height:11px;background:#2f74b3;line-height:11px;">169860</div>
<div class="c" style="left:258px;top:690px;width:30px;height:11px;background:#fdf0cd;line-height:11px;">4236</div>
<div class="c" style="left:288px;top:690px;width:40px;height:11px;background:#fdf0cd;line-height:11px;">144860</div>
<div class="c" style="left:328px;top:690px;width:31px;height:11px;background:#f4bf18;line-height:11px;">3064</div>
<div class="c" style="left:359px;top:690px;width:40px;height:11px;background:#f4bf18;line-height:11px;">146860</div>
<div class="c" style="left:5px;top:701px;width:25px;height:11px;line-height:11px;">8F</div>
<div class="c" style="left:30px;top:701px;width:54px;height:11px;background:#fdf0cd;line-height:11px;">4161</div>
<div class="c" style="left:84px;top:701px;width:61px;height:11px;background:#fdf0cd;line-height:11px;">156160</div>
<div class="c dk" style="left:145px;top:701px;width:53px;height:11px;background:#2f74b3;line-height:11px;">5194</div>
<div class="c dk" style="left:198px;top:701px;width:60px;height:11px;background:#2f74b3;line-height:11px;">171160</div>
<div class="c" style="left:258px;top:701px;width:30px;height:11px;background:#fdf0cd;line-height:11px;">4274</div>
<div class="c" style="left:288px;top:701px;width:40px;height:11px;background:#fdf0cd;line-height:11px;">146160</div>
<div class="c" style="left:328px;top:701px;width:31px;height:11px;background:#f4bf18;line-height:11px;">3091</div>
<div class="c" style="left:359px;top:701px;width:40px;height:11px;background:#e4b83c;line-height:11px;">148160</div>
<div class="c" style="left:5px;top:712px;width:25px;height:11px;line-height:11px;">7F</div>
<div class="c" style="left:30px;top:712px;width:54px;height:11px;background:#fdf0cd;line-height:11px;">4156</div>
<div class="c" style="left:84px;top:712px;width:61px;height:11px;background:#fdf0cd;line-height:11px;">155960</div>
<div class="c dk" style="left:145px;top:712px;width:53px;height:11px;background:#2f74b3;line-height:11px;">5188</div>
<div class="c dk" style="left:198px;top:712px;width:60px;height:11px;background:#2f74b3;line-height:11px;">170960</div>
<div class="c" style="left:258px;top:712px;width:30px;height:11px;background:#fdf0cd;line-height:11px;">4268</div>
<div class="c" style="left:288px;top:712px;width:40px;height:11px;background:#fdf0cd;line-height:11px;">145960</div>
<div class="c" style="left:328px;top:712px;width:31px;height:11px;background:#f4bf18;line-height:11px;">3087</div>
<div class="c" style="left:359px;top:712px;width:40px;height:11px;background:#f4bf18;line-height:11px;">147960</div>
<div class="c" style="left:5px;top:723px;width:25px;height:11px;line-height:11px;">6F</div>
<div class="c" style="left:30px;top:723px;width:54px;height:11px;background:#fdf0cd;line-height:11px;">4151</div>
<div class="c" style="left:84px;top:723px;width:61px;height:11px;background:#fdf0cd;line-height:11px;">155760</div>
<div class="c dk" style="left:145px;top:723px;width:53px;height:11px;background:#2f74b3;line-height:11px;">5182</div>
<div class="c dk" style="left:198px;top:723px;width:60px;height:11px;background:#2f74b3;line-height:11px;">170760</div>
<div class="c" style="left:258px;top:723px;width:30px;height:11px;background:#fdf0cd;line-height:11px;">4262</div>
<div class="c" style="left:288px;top:723px;width:40px;height:11px;background:#fdf0cd;line-height:11px;">145760</div>
<div class="c" style="left:328px;top:723px;width:31px;height:11px;background:#f4bf18;line-height:11px;">3083</div>
<div class="c" style="left:359px;top:723px;width:40px;height:11px;background:#f4bf18;line-height:11px;">147760</div>
<div class="c" style="left:5px;top:734px;width:25px;height:11px;line-height:11px;">5F</div>
<div class="c" style="left:30px;top:734px;width:54px;height:11px;background:#fdf0cd;line-height:11px;">4145</div>
<div class="c" style="left:84px;top:734px;width:61px;height:11px;background:#fdf0cd;line-height:11px;">155560</div>
<div class="c dk" style="left:145px;top:734px;width:53px;height:11px;background:#2f74b3;line-height:11px;">5176</div>
<div class="c dk" style="left:198px;top:734px;width:60px;height:11px;background:#2f74b3;line-height:11px;">170560</div>
<div class="c" style="left:258px;top:734px;width:30px;height:11px;background:#fdf0cd;line-height:11px;">4256</div>
<div class="c" style="left:288px;top:734px;width:40px;height:11px;background:#fdf0cd;line-height:11px;">145560</div>
<div class="c" style="left:328px;top:734px;width:31px;height:11px;background:#f4bf18;line-height:11px;">3078</div>
<div class="c" style="left:359px;top:734px;width:40px;height:11px;background:#f4bf18;line-height:11px;">147560</div>
<div class="c" style="left:5px;top:745px;width:25px;height:11px;line-height:11px;">4F</div>
<div class="c" style="left:30px;top:745px;width:54px;height:11px;background:#e6e4e4;line-height:11px;">3874</div>
<div class="c" style="left:84px;top:745px;width:61px;height:11px;background:#e6e4e4;line-height:11px;">145360</div>
<div class="c" style="left:399px;top:148px;width:27px;height:11px;background:#b1c5e6;line-height:11px;"><b>楼层</b></div>
<div class="c" style="left:426px;top:148px;width:309px;height:11px;background:#b1c5e6;line-height:11px;"><b>1栋二单元</b></div>
<div class="c bd" style="left:426px;top:159px;width:90px;height:11px;background:#b1c5e6;line-height:11px;">01</div>
<div class="c" style="left:426px;top:170px;width:50px;height:11px;background:#b1c5e6;line-height:11px;"><b>总价</b></div>
<div class="c" style="left:476px;top:170px;width:40px;height:11px;background:#b1c5e6;line-height:11px;"><b>单价</b></div>
<div class="c" style="left:399px;top:181px;width:27px;height:33px;line-height:31px;">51F</div>
<div class="c" style="left:426px;top:181px;width:50px;height:11px;background:#fffd00;line-height:11px;">32178</div>
<div class="c" style="left:476px;top:181px;width:40px;height:11px;background:#fffd00;line-height:11px;">280000</div>
<div class="c bd" style="left:426px;top:192px;width:90px;height:11px;background:#b1c5e6;line-height:11px;">01(403m²)</div>
<div class="c bd" style="left:516px;top:192px;width:72px;height:11px;background:#b1c5e6;line-height:11px;">02(东南375m²)</div>
<div class="c bd" style="left:588px;top:192px;width:73px;height:11px;background:#b1c5e6;line-height:11px;">03(西南375m²)</div>
<div class="c" style="left:426px;top:203px;width:50px;height:11px;background:#b1c5e6;line-height:11px;"><b>总价</b></div>
<div class="c" style="left:476px;top:203px;width:40px;height:11px;background:#b1c5e6;line-height:11px;"><b>单价</b></div>
<div class="c" style="left:516px;top:203px;width:32px;height:11px;background:#b1c5e6;line-height:11px;"><b>总价</b></div>
<div class="c" style="left:548px;top:203px;width:40px;height:11px;background:#b1c5e6;line-height:11px;"><b>单价</b></div>
<div class="c" style="left:588px;top:203px;width:32px;height:11px;background:#b1c5e6;line-height:11px;"><b>总价</b></div>
<div class="c" style="left:620px;top:203px;width:41px;height:11px;background:#b1c5e6;line-height:11px;"><b>单价</b></div>
<div class="c" style="left:399px;top:214px;width:27px;height:11px;line-height:11px;">50F</div>
<div class="c" style="left:426px;top:214px;width:50px;height:11px;background:#a9cf8d;line-height:11px;">6829</div>
<div class="c" style="left:476px;top:214px;width:40px;height:11px;background:#a9cf8d;line-height:11px;">169660</div>
<div class="c" style="left:516px;top:214px;width:32px;height:11px;background:#e2eedb;line-height:11px;">7705</div>
<div class="c" style="left:548px;top:214px;width:40px;height:11px;background:#e2eedb;line-height:11px;">205160</div>
<div class="c" style="left:588px;top:214px;width:32px;height:11px;background:#dde9f3;line-height:11px;">6008</div>
<div class="c" style="left:620px;top:214px;width:41px;height:11px;background:#dde9f3;line-height:11px;">160160</div>
<div class="c" style="left:399px;top:225px;width:27px;height:12px;line-height:11px;">49F</div>
<div class="c" style="left:426px;top:225px;width:50px;height:12px;background:#a9cf8d;line-height:11px;">7211</div>
<div class="c" style="left:476px;top:225px;width:40px;height:12px;background:#a9cf8d;line-height:11px;">179160</div>
<div class="c" style="left:516px;top:225px;width:32px;height:12px;background:#e2eedb;line-height:11px;">7855</div>
<div class="c" style="left:548px;top:225px;width:40px;height:12px;background:#e2eedb;line-height:11px;">209160</div>
<div class="c" style="left:588px;top:225px;width:32px;height:12px;background:#dde9f3;line-height:11px;">6364</div>
<div class="c" style="left:620px;top:225px;width:41px;height:12px;background:#dde9f3;line-height:11px;">169660</div>
<div class="c" style="left:399px;top:237px;width:27px;height:11px;line-height:9px;">48F</div>
<div class="c" style="left:426px;top:237px;width:50px;height:11px;background:#a9cf8d;line-height:9px;">7191</div>
<div class="c" style="left:476px;top:237px;width:40px;height:11px;background:#a9cf8d;line-height:9px;">178660</div>
<div class="c" style="left:516px;top:237px;width:32px;height:11px;background:#e2eedb;line-height:9px;">8005</div>
<div class="c" style="left:548px;top:237px;width:40px;height:11px;background:#e2eedb;line-height:9px;">213160</div>
<div class="c" style="left:588px;top:237px;width:32px;height:11px;background:#dde9f3;line-height:9px;">6346</div>
<div class="c" style="left:620px;top:237px;width:41px;height:11px;background:#dde9f3;line-height:9px;">169160</div>
<div class="c" style="left:399px;top:248px;width:27px;height:11px;line-height:9px;">47F</div>
<div class="c" style="left:426px;top:248px;width:50px;height:11px;background:#a9cf8d;line-height:9px;">7171</div>
<div class="c" style="left:476px;top:248px;width:40px;height:11px;background:#a9cf8d;line-height:9px;">178160</div>
<div class="c" style="left:516px;top:248px;width:32px;height:11px;background:#e2eedb;line-height:9px;">7968</div>
<div class="c" style="left:548px;top:248px;width:40px;height:11px;background:#e2eedb;line-height:9px;">212160</div>
<div class="c" style="left:588px;top:248px;width:32px;height:11px;background:#dde9f3;line-height:9px;">6327</div>
<div class="c" style="left:620px;top:248px;width:41px;height:11px;background:#dde9f3;line-height:9px;">168660</div>
<div class="c" style="left:399px;top:259px;width:27px;height:11px;line-height:11px;">46F</div>
<div class="c" style="left:426px;top:259px;width:50px;height:11px;background:#a9cf8d;line-height:11px;">7151</div>
<div class="c" style="left:476px;top:259px;width:40px;height:11px;background:#a9cf8d;line-height:11px;">177660</div>
<div class="c" style="left:516px;top:259px;width:32px;height:11px;background:#e2eedb;line-height:11px;">7930</div>
<div class="c" style="left:548px;top:259px;width:40px;height:11px;background:#e2eedb;line-height:11px;">211160</div>
<div class="c" style="left:588px;top:259px;width:32px;height:11px;background:#dde9f3;line-height:11px;">6308</div>
<div class="c" style="left:620px;top:259px;width:41px;height:11px;background:#dde9f3;line-height:11px;">168160</div>
<div class="c" style="left:399px;top:270px;width:27px;height:11px;line-height:11px;">45F</div>
<div class="c" style="left:426px;top:270px;width:50px;height:11px;background:#a9cf8d;line-height:11px;">7131</div>
<div class="c" style="left:476px;top:270px;width:40px;height:11px;background:#a9cf8d;line-height:11px;">177160</div>
<div class="c" style="left:516px;top:270px;width:32px;height:11px;background:#e2eedb;line-height:11px;">7893</div>
<div class="c" style="left:548px;top:270px;width:40px;height:11px;background:#e2eedb;line-height:11px;">210160</div>
<div class="c" style="left:588px;top:270px;width:32px;height:11px;background:#dde9f3;line-height:11px;">6289</div>
<div class="c" style="left:620px;top:270px;width:41px;height:11px;background:#dde9f3;line-height:11px;">167660</div>
<div class="c" style="left:399px;top:281px;width:27px;height:11px;line-height:11px;">44F</div>
<div class="c" style="left:426px;top:281px;width:50px;height:11px;background:#a9cf8d;line-height:11px;">6930</div>
<div class="c" style="left:476px;top:281px;width:40px;height:11px;background:#a9cf8d;line-height:11px;">172160</div>
<div class="c" style="left:516px;top:281px;width:32px;height:11px;background:#e2eedb;line-height:11px;">7705</div>
<div class="c" style="left:548px;top:281px;width:40px;height:11px;background:#e2eedb;line-height:11px;">205160</div>
<div class="c" style="left:588px;top:281px;width:32px;height:11px;background:#dde9f3;line-height:11px;">6102</div>
<div class="c" style="left:620px;top:281px;width:41px;height:11px;background:#dde9f3;line-height:11px;">162660</div>
<div class="c" style="left:399px;top:292px;width:27px;height:11px;line-height:11px;">43F</div>
<div class="c" style="left:426px;top:292px;width:50px;height:11px;background:#a9cf8d;line-height:11px;">6909</div>
<div class="c" style="left:476px;top:292px;width:40px;height:11px;background:#a9cf8d;line-height:11px;">171660</div>
<div class="c" style="left:516px;top:292px;width:32px;height:11px;background:#e2eedb;line-height:11px;">7686</div>
<div class="c" style="left:548px;top:292px;width:40px;height:11px;background:#e2eedb;line-height:11px;">204660</div>
<div class="c" style="left:588px;top:292px;width:32px;height:11px;background:#dde9f3;line-height:11px;">6083</div>
<div class="c" style="left:620px;top:292px;width:41px;height:11px;background:#dde9f3;line-height:11px;">162160</div>
<div class="c" style="left:399px;top:303px;width:27px;height:11px;line-height:11px;">42F</div>
<div class="c" style="left:426px;top:303px;width:50px;height:11px;background:#a9cf8d;line-height:11px;">6889</div>
<div class="c" style="left:476px;top:303px;width:40px;height:11px;background:#a9cf8d;line-height:11px;">171160</div>
<div class="c" style="left:516px;top:303px;width:32px;height:11px;background:#e2eedb;line-height:11px;">7667</div>
<div class="c" style="left:548px;top:303px;width:40px;height:11px;background:#e2eedb;line-height:11px;">204160</div>
<div class="c" style="left:588px;top:303px;width:32px;height:11px;background:#dde9f3;line-height:11px;">6064</div>
<div class="c" style="left:620px;top:303px;width:41px;height:11px;background:#dde9f3;line-height:11px;">161660</div>
<div class="c" style="left:399px;top:314px;width:27px;height:11px;line-height:11px;">41F</div>
<div class="c" style="left:426px;top:314px;width:50px;height:11px;background:#a9cf8d;line-height:11px;">6869</div>
<div class="c" style="left:476px;top:314px;width:40px;height:11px;background:#a9cf8d;line-height:11px;">170660</div>
<div class="c" style="left:516px;top:314px;width:32px;height:11px;background:#e2eedb;line-height:11px;">7649</div>
<div class="c" style="left:548px;top:314px;width:40px;height:11px;background:#e2eedb;line-height:11px;">203660</div>
<div class="c" style="left:588px;top:314px;width:32px;height:11px;background:#dde9f3;line-height:11px;">6046</div>
<div class="c" style="left:620px;top:314px;width:41px;height:11px;background:#dde9f3;line-height:11px;">161160</div>
<div class="c" style="left:399px;top:325px;width:27px;height:11px;line-height:11px;">40F</div>
<div class="c" style="left:426px;top:325px;width:50px;height:11px;background:#a9cf8d;line-height:11px;">6719</div>
<div class="c" style="left:476px;top:325px;width:40px;height:11px;background:#a9cf8d;line-height:11px;">167160</div>
<div class="c" style="left:516px;top:325px;width:32px;height:11px;background:#e2eedb;line-height:11px;">7592</div>
<div class="c" style="left:548px;top:325px;width:40px;height:11px;background:#e2eedb;line-height:11px;">202160</div>
<div class="c" style="left:588px;top:325px;width:32px;height:11px;background:#dde9f3;line-height:11px;">6027</div>
<div class="c" style="left:620px;top:325px;width:41px;height:11px;background:#dde9f3;line-height:11px;">160660</div>
<div class="c" style="left:399px;top:336px;width:27px;height:11px;line-height:11px;">39F</div>
<div class="c" style="left:426px;top:336px;width:309px;height:11px;background:#fffd00;line-height:11px;">避难层</div>
<div class="c bd" style="left:426px;top:347px;width:90px;height:11px;background:#b1c5e6;line-height:11px;">01(269m²)</div>
<div class="c bd" style="left:516px;top:347px;width:72px;height:11px;background:#b1c5e6;line-height:11px;">02(305m²)</div>
<div class="c bd" style="left:588px;top:347px;width:73px;height:11px;background:#b1c5e6;line-height:11px;">03(295m²)</div>
<div class="c bd" style="left:661px;top:347px;width:74px;height:11px;background:#b1c5e6;line-height:11px;">04(209m²)</div>
<div class="c" style="left:426px;top:358px;width:50px;height:11px;background:#b1c5e6;line-height:11px;"><b>总价</b></div>
<div class="c" style="left:476px;top:358px;width:40px;height:11px;background:#b1c5e6;line-height:11px;"><b>单价</b></div>
<div class="c" style="left:516px;top:358px;width:32px;height:11px;background:#b1c5e6;line-height:11px;"><b>总价</b></div>
<div class="c" style="left:548px;top:358px;width:40px;height:11px;background:#b1c5e6;line-height:11px;"><b>单价</b></div>
<div class="c" style="left:588px;top:358px;width:32px;height:11px;background:#b1c5e6;line-height:11px;"><b>总价</b></div>
<div class="c" style="left:620px;top:358px;width:41px;height:11px;background:#b1c5e6;line-height:11px;"><b>单价</b></div>
<div class="c" style="left:661px;top:358px;width:33px;height:11px;background:#b1c5e6;line-height:11px;"><b>总价</b></div>
<div class="c" style="left:694px;top:358px;width:41px;height:11px;background:#b1c5e6;line-height:11px;"><b>单价</b></div>
<div class="c" style="left:399px;top:369px;width:27px;height:11px;line-height:11px;">38F</div>
<div class="c" style="left:588px;top:369px;width:32px;height:11px;background:#fdf0cd;line-height:11px;">4456</div>
<div class="c" style="left:620px;top:369px;width:41px;height:11px;background:#fdf0cd;line-height:11px;">150360</div>
<div class="c" style="left:661px;top:369px;width:33px;height:11px;background:#fbe3d5;line-height:11px;">3326</div>
<div class="c" style="left:694px;top:369px;width:41px;height:11px;background:#fbe3d5;line-height:11px;">157360</div>
<div class="c" style="left:399px;top:380px;width:27px;height:12px;line-height:11px;">37F</div>
<div class="c" style="left:426px;top:380px;width:50px;height:12px;background:#fdf0cd;line-height:11px;">4391</div>
<div class="c" style="left:476px;top:380px;width:40px;height:12px;background:#fdf0cd;line-height:11px;">163560</div>
<div class="c dk" style="left:516px;top:380px;width:32px;height:12px;background:#2f74b3;line-height:11px;">5313</div>
<div class="c dk" style="left:548px;top:380px;width:40px;height:12px;background:#2f74b3;line-height:11px;">173560</div>
<div class="c" style="left:588px;top:380px;width:32px;height:12px;background:#fdf0cd;line-height:11px;">4495</div>
<div class="c" style="left:620px;top:380px;width:41px;height:12px;background:#fdf0cd;line-height:11px;">151660</div>
<div class="c" style="left:661px;top:380px;width:33px;height:12px;background:#fbe3d5;line-height:11px;">3353</div>
<div class="c" style="left:694px;top:380px;width:41px;height:12px;background:#fbe3d5;line-height:11px;">158660</div>
<div class="c" style="left:399px;top:392px;width:27px;height:11px;line-height:9px;">36F</div>
<div class="c" style="left:426px;top:392px;width:50px;height:11px;background:#fdf0cd;line-height:9px;">4337</div>
<div class="c" style="left:476px;top:392px;width:40px;height:11px;background:#fdf0cd;line-height:9px;">161560</div>
<div class="c dk" style="left:516px;top:392px;width:32px;height:11px;background:#2f74b3;line-height:9px;">5252</div>
<div class="c dk" style="left:548px;top:392px;width:40px;height:11px;background:#2f74b3;line-height:9px;">171560</div>
<div class="c" style="left:588px;top:392px;width:32px;height:11px;background:#fdf0cd;line-height:9px;">4489</div>
<div class="c" style="left:620px;top:392px;width:41px;height:11px;background:#fdf0cd;line-height:9px;">151460</div>
<div class="c" style="left:661px;top:392px;width:33px;height:11px;background:#fbe3d5;line-height:9px;">3349</div>
<div class="c" style="left:694px;top:392px;width:41px;height:11px;background:#fbe3d5;line-height:9px;">158460</div>
<div class="c" style="left:399px;top:403px;width:27px;height:11px;line-height:9px;">35F</div>
<div class="c" style="left:426px;top:403px;width:50px;height:11px;background:#fdf0cd;line-height:9px;">4283</div>
<div class="c" style="left:476px;top:403px;width:40px;height:11px;background:#fdf0cd;line-height:9px;">159560</div>
<div class="c dk" style="left:516px;top:403px;width:32px;height:11px;background:#2f74b3;line-height:9px;">5191</div>
<div class="c dk" style="left:548px;top:403px;width:40px;height:11px;background:#2f74b3;line-height:9px;">169560</div>
<div class="c" style="left:588px;top:403px;width:32px;height:11px;background:#fdf0cd;line-height:9px;">4483</div>
<div class="c" style="left:620px;top:403px;width:41px;height:11px;background:#fdf0cd;line-height:9px;">151260</div>
<div class="c" style="left:661px;top:403px;width:33px;height:11px;background:#fbe3d5;line-height:9px;">3345</div>
<div class="c" style="left:694px;top:403px;width:41px;height:11px;background:#fbe3d5;line-height:9px;">158260</div>
<div class="c" style="left:399px;top:414px;width:27px;height:11px;line-height:9px;">34F</div>
<div class="c" style="left:426px;top:414px;width:50px;height:11px;background:#fdf0cd;line-height:9px;">4230</div>
<div class="c" style="left:476px;top:414px;width:40px;height:11px;background:#fdf0cd;line-height:9px;">157560</div>
<div class="c dk" style="left:516px;top:414px;width:32px;height:11px;background:#2f74b3;line-height:9px;">5129</div>
<div class="c dk" style="left:548px;top:414px;width:40px;height:11px;background:#2f74b3;line-height:9px;">167560</div>
<div class="c" style="left:588px;top:414px;width:32px;height:11px;background:#fdf0cd;line-height:9px;">4477</div>
<div class="c" style="left:620px;top:414px;width:41px;height:11px;background:#fdf0cd;line-height:9px;">151060</div>
<div class="c" style="left:661px;top:414px;width:33px;height:11px;background:#fbe3d5;line-height:9px;">3341</div>
<div class="c" style="left:694px;top:414px;width:41px;height:11px;background:#fbe3d5;line-height:9px;">158060</div>
<div class="c" style="left:399px;top:425px;width:27px;height:11px;line-height:9px;">33F</div>
<div class="c" style="left:426px;top:425px;width:50px;height:11px;background:#fdf0cd;line-height:9px;">4224</div>
<div class="c" style="left:476px;top:425px;width:40px;height:11px;background:#fdf0cd;line-height:9px;">157360</div>
<div class="c dk" style="left:516px;top:425px;width:32px;height:11px;background:#2f74b3;line-height:9px;">5123</div>
<div class="c dk" style="left:548px;top:425px;width:40px;height:11px;background:#2f74b3;line-height:9px;">167360</div>
<div class="c" style="left:588px;top:425px;width:32px;height:11px;background:#fdf0cd;line-height:9px;">4471</div>
<div class="c" style="left:620px;top:425px;width:41px;height:11px;background:#fdf0cd;line-height:9px;">150860</div>
<div class="c" style="left:661px;top:425px;width:33px;height:11px;background:#fbe3d5;line-height:9px;">3336</div>
<div class="c" style="left:694px;top:425px;width:41px;height:11px;background:#fbe3d5;line-height:9px;">157860</div>
<div class="c" style="left:399px;top:436px;width:27px;height:11px;line-height:11px;">32F</div>
<div class="c" style="left:426px;top:436px;width:50px;height:11px;background:#fdf0cd;line-height:11px;">4219</div>
<div class="c" style="left:476px;top:436px;width:40px;height:11px;background:#fdf0cd;line-height:11px;">157160</div>
<div class="c dk" style="left:516px;top:436px;width:32px;height:11px;background:#2f74b3;line-height:11px;">5117</div>
<div class="c dk" style="left:548px;top:436px;width:40px;height:11px;background:#2f74b3;line-height:11px;">167160</div>
<div class="c" style="left:588px;top:436px;width:32px;height:11px;background:#fdf0cd;line-height:11px;">4465</div>
<div class="c" style="left:620px;top:436px;width:41px;height:11px;background:#fdf0cd;line-height:11px;">150660</div>
<div class="c" style="left:661px;top:436px;width:33px;height:11px;background:#fbe3d5;line-height:11px;">3332</div>
<div class="c" style="left:694px;top:436px;width:41px;height:11px;background:#fbe3d5;line-height:11px;">157660</div>
<div class="c" style="left:399px;top:447px;width:27px;height:11px;line-height:11px;">31F</div>
<div class="c" style="left:426px;top:447px;width:50px;height:11px;background:#fdf0cd;line-height:11px;">4213</div>
<div class="c" style="left:476px;top:447px;width:40px;height:11px;background:#fdf0cd;line-height:11px;">156960</div>
<div class="c dk" style="left:516px;top:447px;width:32px;height:11px;background:#2f74b3;line-height:11px;">5111</div>
<div class="c dk" style="left:548px;top:447px;width:40px;height:11px;background:#2f74b3;line-height:11px;">166960</div>
<div class="c" style="left:588px;top:447px;width:32px;height:11px;background:#fdf0cd;line-height:11px;">4459</div>
<div class="c" style="left:620px;top:447px;width:41px;height:11px;background:#fdf0cd;line-height:11px;">150460</div>
<div class="c" style="left:661px;top:447px;width:33px;height:11px;background:#fbe3d5;line-height:11px;">3328</div>
<div class="c" style="left:694px;top:447px;width:41px;height:11px;background:#fbe3d5;line-height:11px;">157460</div>
<div class="c" style="left:399px;top:458px;width:27px;height:11px;line-height:11px;">30F</div>
<div class="c" style="left:426px;top:458px;width:50px;height:11px;background:#fdf0cd;line-height:11px;">4208</div>
<div class="c" style="left:476px;top:458px;width:40px;height:11px;background:#fdf0cd;line-height:11px;">156760</div>
<div class="c dk" style="left:516px;top:458px;width:32px;height:11px;background:#2f74b3;line-height:11px;">5105</div>
<div class="c dk" style="left:548px;top:458px;width:40px;height:11px;background:#2f74b3;line-height:11px;">166760</div>
<div class="c" style="left:588px;top:458px;width:32px;height:11px;background:#fdf0cd;line-height:11px;">4453</div>
<div class="c" style="left:620px;top:458px;width:41px;height:11px;background:#fdf0cd;line-height:11px;">150260</div>
<div class="c" style="left:661px;top:458px;width:33px;height:11px;background:#fbe3d5;line-height:11px;">3324</div>
<div class="c" style="left:694px;top:458px;width:41px;height:11px;background:#fbe3d5;line-height:11px;">157260</div>
<div class="c" style="left:399px;top:469px;width:27px;height:11px;line-height:11px;">29F</div>
<div class="c" style="left:426px;top:469px;width:50px;height:11px;background:#fdf0cd;line-height:11px;">4203</div>
<div class="c" style="left:476px;top:469px;width:40px;height:11px;background:#fdf0cd;line-height:11px;">156560</div>
<div class="c dk" style="left:516px;top:469px;width:32px;height:11px;background:#c45812;line-height:11px;">5099</div>
<div class="c dk" style="left:548px;top:469px;width:40px;height:11px;background:#c45812;line-height:11px;">166560</div>
<div class="c" style="left:588px;top:469px;width:32px;height:11px;background:#fdf0cd;line-height:11px;">4447</div>
<div class="c" style="left:620px;top:469px;width:41px;height:11px;background:#fdf0cd;line-height:11px;">150060</div>
<div class="c" style="left:661px;top:469px;width:33px;height:11px;background:#fbe3d5;line-height:11px;">3319</div>
<div class="c" style="left:694px;top:469px;width:41px;height:11px;background:#fbe3d5;line-height:11px;">157060</div>
<div class="c" style="left:399px;top:480px;width:27px;height:11px;line-height:11px;">28F</div>
<div class="c" style="left:426px;top:480px;width:50px;height:11px;background:#fdf0cd;line-height:11px;">4197</div>
<div class="c" style="left:476px;top:480px;width:40px;height:11px;background:#fdf0cd;line-height:11px;">156360</div>
<div class="c dk" style="left:516px;top:480px;width:32px;height:11px;background:#c45812;line-height:11px;">5093</div>
<div class="c dk" style="left:548px;top:480px;width:40px;height:11px;background:#c45812;line-height:11px;">166360</div>
<div class="c" style="left:588px;top:480px;width:32px;height:11px;background:#fdf0cd;line-height:11px;">4441</div>
<div class="c" style="left:620px;top:480px;width:41px;height:11px;background:#fdf0cd;line-height:11px;">149860</div>
<div class="c" style="left:661px;top:480px;width:33px;height:11px;background:#fbe3d5;line-height:11px;">3315</div>
<div class="c" style="left:694px;top:480px;width:41px;height:11px;background:#fbe3d5;line-height:11px;">156860</div>
<div class="c" style="left:399px;top:491px;width:27px;height:11px;line-height:11px;">27F</div>
<div class="c" style="left:426px;top:491px;width:50px;height:11px;background:#fdf0cd;line-height:11px;">4192</div>
<div class="c" style="left:476px;top:491px;width:40px;height:11px;background:#fdf0cd;line-height:11px;">156160</div>
<div class="c dk" style="left:516px;top:491px;width:32px;height:11px;background:#c45812;line-height:11px;">5086</div>
<div class="c dk" style="left:548px;top:491px;width:40px;height:11px;background:#c45812;line-height:11px;">166160</div>
<div class="c" style="left:588px;top:491px;width:32px;height:11px;background:#fdf0cd;line-height:11px;">4435</div>
<div class="c" style="left:620px;top:491px;width:41px;height:11px;background:#fdf0cd;line-height:11px;">149660</div>
<div class="c" style="left:661px;top:491px;width:33px;height:11px;background:#fbe3d5;line-height:11px;">3311</div>
<div class="c" style="left:694px;top:491px;width:41px;height:11px;background:#fbe3d5;line-height:11px;">156660</div>
<div class="c" style="left:399px;top:502px;width:27px;height:11px;line-height:11px;">26F</div>
<div class="c" style="left:426px;top:502px;width:50px;height:11px;background:#fdf0cd;line-height:11px;">4160</div>
<div class="c" style="left:476px;top:502px;width:40px;height:11px;background:#fdf0cd;line-height:11px;">154960</div>
<div class="c r dk" style="left:516px;top:502px;width:32px;height:11px;background:#c45812;line-height:11px;">5050</div>
<div class="c r dk" style="left:548px;top:502px;width:40px;height:11px;background:#c45812;line-height:11px;">164960</div>
<div class="c" style="left:588px;top:502px;width:32px;height:11px;background:#fdf0cd;line-height:11px;">4400</div>
<div class="c" style="left:620px;top:502px;width:41px;height:11px;background:#fdf0cd;line-height:11px;">148460</div>
<div class="c" style="left:661px;top:502px;width:33px;height:11px;background:#fbe3d5;line-height:11px;">3286</div>
<div class="c" style="left:694px;top:502px;width:41px;height:11px;background:#fbe3d5;line-height:11px;">155460</div>
<div class="c" style="left:399px;top:513px;width:27px;height:11px;line-height:11px;">25F</div>
<div class="c" style="left:426px;top:513px;width:309px;height:11px;background:#fffd00;line-height:11px;">避难层</div>
<div class="c" style="left:399px;top:524px;width:27px;height:11px;line-height:11px;">24F</div>
<div class="c" style="left:426px;top:524px;width:50px;height:11px;background:#fdf0cd;line-height:11px;">4119</div>
<div class="c" style="left:476px;top:524px;width:40px;height:11px;background:#fdf0cd;line-height:11px;">153460</div>
<div class="c dk" style="left:516px;top:524px;width:32px;height:11px;background:#c45812;line-height:11px;">5004</div>
<div class="c dk" style="left:548px;top:524px;width:40px;height:11px;background:#c45812;line-height:11px;">163460</div>
<div class="c" style="left:588px;top:524px;width:32px;height:11px;background:#fdf0cd;line-height:11px;">4252</div>
<div class="c" style="left:620px;top:524px;width:41px;height:11px;background:#fdf0cd;line-height:11px;">143460</div>
<div class="c" style="left:661px;top:524px;width:33px;height:11px;background:#fbe3d5;line-height:11px;">3180</div>
<div class="c" style="left:694px;top:524px;width:41px;height:11px;background:#fbe3d5;line-height:11px;">150460</div>
<div class="c" style="left:399px;top:535px;width:27px;height:11px;line-height:11px;">23F</div>
<div class="c" style="left:426px;top:535px;width:50px;height:11px;background:#fdf0cd;line-height:11px;">4154</div>
<div class="c" style="left:476px;top:535px;width:40px;height:11px;background:#fdf0cd;line-height:11px;">154760</div>
<div class="c dk" style="left:516px;top:535px;width:32px;height:11px;background:#c45812;line-height:11px;">5044</div>
<div class="c dk" style="left:548px;top:535px;width:40px;height:11px;background:#c45812;line-height:11px;">164760</div>
<div class="c" style="left:588px;top:535px;width:32px;height:11px;background:#fdf0cd;line-height:11px;">4290</div>
<div class="c" style="left:620px;top:535px;width:41px;height:11px;background:#fdf0cd;line-height:11px;">144760</div>
<div class="c" style="left:661px;top:535px;width:33px;height:11px;background:#fbe3d5;line-height:11px;">3207</div>
<div class="c" style="left:694px;top:535px;width:41px;height:11px;background:#fbe3d5;line-height:11px;">151760</div>
<div class="c" style="left:399px;top:546px;width:27px;height:12px;line-height:11px;">22F</div>
<div class="c" style="left:426px;top:546px;width:50px;height:12px;background:#fdf0cd;line-height:11px;">4149</div>
<div class="c" style="left:476px;top:546px;width:40px;height:12px;background:#fdf0cd;line-height:11px;">154560</div>
<div class="c dk" style="left:516px;top:546px;width:32px;height:12px;background:#c45812;line-height:11px;">5038</div>
<div class="c dk" style="left:548px;top:546px;width:40px;height:12px;background:#c45812;line-height:11px;">164560</div>
<div class="c" style="left:588px;top:546px;width:32px;height:12px;background:#fdf0cd;line-height:11px;">4284</div>
<div class="c" style="left:620px;top:546px;width:41px;height:12px;background:#fdf0cd;line-height:11px;">144560</div>
<div class="c" style="left:661px;top:546px;width:33px;height:12px;background:#fbe3d5;line-height:11px;">3203</div>
<div class="c" style="left:694px;top:546px;width:41px;height:12px;background:#fbe3d5;line-height:11px;">151560</div>
<div class="c" style="left:399px;top:558px;width:27px;height:11px;line-height:9px;">21F</div>
<div class="c" style="left:426px;top:558px;width:50px;height:11px;background:#fdf0cd;line-height:9px;">4144</div>
<div class="c" style="left:476px;top:558px;width:40px;height:11px;background:#fdf0cd;line-height:9px;">154360</div>
<div class="c dk" style="left:516px;top:558px;width:32px;height:11px;background:#c45812;line-height:9px;">5031</div>
<div class="c dk" style="left:548px;top:558px;width:40px;height:11px;background:#c45812;line-height:9px;">164360</div>
<div class="c" style="left:588px;top:558px;width:32px;height:11px;background:#fdf0cd;line-height:9px;">4278</div>
<div class="c" style="left:620px;top:558px;width:41px;height:11px;background:#fdf0cd;line-height:9px;">144360</div>
<div class="c" style="left:661px;top:558px;width:33px;height:11px;background:#fbe3d5;line-height:9px;">3199</div>
<div class="c" style="left:694px;top:558px;width:41px;height:11px;background:#fbe3d5;line-height:9px;">151360</div>
<div class="c" style="left:399px;top:569px;width:27px;height:11px;line-height:9px;">20F</div>
<div class="c" style="left:426px;top:569px;width:50px;height:11px;background:#fdf0cd;line-height:9px;">4138</div>
<div class="c" style="left:476px;top:569px;width:40px;height:11px;background:#fdf0cd;line-height:9px;">154160</div>
<div class="c dk" style="left:516px;top:569px;width:32px;height:11px;background:#c45812;line-height:9px;">5025</div>
<div class="c dk" style="left:548px;top:569px;width:40px;height:11px;background:#c45812;line-height:9px;">164160</div>
<div class="c" style="left:588px;top:569px;width:32px;height:11px;background:#fdf0cd;line-height:9px;">4272</div>
<div class="c" style="left:620px;top:569px;width:41px;height:11px;background:#fdf0cd;line-height:9px;">144160</div>
<div class="c" style="left:661px;top:569px;width:33px;height:11px;background:#fbe3d5;line-height:9px;">3195</div>
<div class="c" style="left:694px;top:569px;width:41px;height:11px;background:#fbe3d5;line-height:9px;">151160</div>
<div class="c" style="left:399px;top:580px;width:27px;height:11px;line-height:9px;">19F</div>
<div class="c" style="left:426px;top:580px;width:50px;height:11px;background:#fdf0cd;line-height:9px;">4133</div>
<div class="c" style="left:476px;top:580px;width:40px;height:11px;background:#fdf0cd;line-height:9px;">153960</div>
<div class="c dk" style="left:516px;top:580px;width:32px;height:11px;background:#c45812;line-height:9px;">5019</div>
<div class="c dk" style="left:548px;top:580px;width:40px;height:11px;background:#c45812;line-height:9px;">163960</div>
<div class="c" style="left:588px;top:580px;width:32px;height:11px;background:#fdf0cd;line-height:9px;">4266</div>
<div class="c" style="left:620px;top:580px;width:41px;height:11px;background:#fdf0cd;line-height:9px;">143960</div>
<div class="c" style="left:661px;top:580px;width:33px;height:11px;background:#fbe3d5;line-height:9px;">3191</div>
<div class="c" style="left:694px;top:580px;width:41px;height:11px;background:#fbe3d5;line-height:9px;">150960</div>
<div class="c" style="left:399px;top:591px;width:27px;height:11px;line-height:9px;">18F</div>
<div class="c" style="left:426px;top:591px;width:50px;height:11px;background:#fdf0cd;line-height:9px;">4128</div>
<div class="c" style="left:476px;top:591px;width:40px;height:11px;background:#fdf0cd;line-height:9px;">153760</div>
<div class="c dk" style="left:516px;top:591px;width:32px;height:11px;background:#c45812;line-height:9px;">5013</div>
<div class="c dk" style="left:548px;top:591px;width:40px;height:11px;background:#c45812;line-height:9px;">163760</div>
<div class="c" style="left:588px;top:591px;width:32px;height:11px;background:#fdf0cd;line-height:9px;">4260</div>
<div class="c" style="left:620px;top:591px;width:41px;height:11px;background:#fdf0cd;line-height:9px;">143760</div>
<div class="c" style="left:661px;top:591px;width:33px;height:11px;background:#fbe3d5;line-height:9px;">3186</div>
<div class="c" style="left:694px;top:591px;width:41px;height:11px;background:#fbe3d5;line-height:9px;">150760</div>
<div class="c" style="left:399px;top:602px;width:27px;height:11px;line-height:9px;">17F</div>
<div class="c" style="left:426px;top:602px;width:50px;height:11px;background:#fdf0cd;line-height:9px;">4122</div>
<div class="c" style="left:476px;top:602px;width:40px;height:11px;background:#fdf0cd;line-height:9px;">153560</div>
<div class="c dk" style="left:516px;top:602px;width:32px;height:11px;background:#c45812;line-height:9px;">5007</div>
<div class="c dk" style="left:548px;top:602px;width:40px;height:11px;background:#c45812;line-height:9px;">163560</div>
<div class="c" style="left:588px;top:602px;width:32px;height:11px;background:#fdf0cd;line-height:9px;">4255</div>
<div class="c" style="left:620px;top:602px;width:41px;height:11px;background:#fdf0cd;line-height:9px;">143560</div>
<div class="c" style="left:661px;top:602px;width:33px;height:11px;background:#fbe3d5;line-height:9px;">3182</div>
<div class="c" style="left:694px;top:602px;width:41px;height:11px;background:#fbe3d5;line-height:9px;">150560</div>
<div class="c" style="left:399px;top:613px;width:27px;height:11px;line-height:9px;">16F</div>
<div class="c" style="left:426px;top:613px;width:50px;height:11px;background:#fdf0cd;line-height:9px;">4117</div>
<div class="c" style="left:476px;top:613px;width:40px;height:11px;background:#fdf0cd;line-height:9px;">153360</div>
<div class="c dk" style="left:516px;top:613px;width:32px;height:11px;background:#c45812;line-height:9px;">5001</div>
<div class="c dk" style="left:548px;top:613px;width:40px;height:11px;background:#c45812;line-height:9px;">163360</div>
<div class="c" style="left:588px;top:613px;width:32px;height:11px;background:#fdf0cd;line-height:9px;">4249</div>
<div class="c" style="left:620px;top:613px;width:41px;height:11px;background:#fdf0cd;line-height:9px;">143360</div>
<div class="c" style="left:661px;top:613px;width:33px;height:11px;background:#fbe3d5;line-height:9px;">3178</div>
<div class="c" style="left:694px;top:613px;width:41px;height:11px;background:#fbe3d5;line-height:9px;">150360</div>
<div class="c" style="left:399px;top:624px;width:27px;height:11px;line-height:11px;">15F</div>
<div class="c" style="left:426px;top:624px;width:50px;height:11px;background:#fdf0cd;line-height:11px;">4111</div>
<div class="c" style="left:476px;top:624px;width:40px;height:11px;background:#fdf0cd;line-height:11px;">153160</div>
<div class="c dk" style="left:516px;top:624px;width:32px;height:11px;background:#c45812;line-height:11px;">4995</div>
<div class="c dk" style="left:548px;top:624px;width:40px;height:11px;background:#c45812;line-height:11px;">163160</div>
<div class="c" style="left:588px;top:624px;width:32px;height:11px;background:#fdf0cd;line-height:11px;">4243</div>
<div class="c" style="left:620px;top:624px;width:41px;height:11px;background:#fdf0cd;line-height:11px;">143160</div>
<div class="c" style="left:661px;top:624px;width:33px;height:11px;background:#fbe3d5;line-height:11px;">3174</div>
<div class="c" style="left:694px;top:624px;width:41px;height:11px;background:#fbe3d5;line-height:11px;">150160</div>
<div class="c" style="left:399px;top:635px;width:27px;height:11px;line-height:11px;">14F</div>
<div class="c" style="left:426px;top:635px;width:50px;height:11px;background:#fdf0cd;line-height:11px;">4106</div>
<div class="c" style="left:476px;top:635px;width:40px;height:11px;background:#fdf0cd;line-height:11px;">152960</div>
<div class="c dk" style="left:516px;top:635px;width:32px;height:11px;background:#c45812;line-height:11px;">4989</div>
<div class="c dk" style="left:548px;top:635px;width:40px;height:11px;background:#c45812;line-height:11px;">162960</div>
<div class="c" style="left:588px;top:635px;width:32px;height:11px;background:#fdf0cd;line-height:11px;">4237</div>
<div class="c" style="left:620px;top:635px;width:41px;height:11px;background:#fdf0cd;line-height:11px;">142960</div>
<div class="c" style="left:661px;top:635px;width:33px;height:11px;background:#fbe3d5;line-height:11px;">3169</div>
<div class="c" style="left:694px;top:635px;width:41px;height:11px;background:#fbe3d5;line-height:11px;">149960</div>
<div class="c" style="left:399px;top:646px;width:27px;height:11px;line-height:11px;">13F</div>
<div class="c" style="left:426px;top:646px;width:50px;height:11px;background:#fdf0cd;line-height:11px;">4101</div>
<div class="c" style="left:476px;top:646px;width:40px;height:11px;background:#fdf0cd;line-height:11px;">152760</div>
<div class="c dk" style="left:516px;top:646px;width:32px;height:11px;background:#c45812;line-height:11px;">4982</div>
<div class="c dk" style="left:548px;top:646px;width:40px;height:11px;background:#c45812;line-height:11px;">162760</div>
<div class="c" style="left:588px;top:646px;width:32px;height:11px;background:#fdf0cd;line-height:11px;">4231</div>
<div class="c" style="left:620px;top:646px;width:41px;height:11px;background:#fdf0cd;line-height:11px;">142760</div>
<div class="c" style="left:661px;top:646px;width:33px;height:11px;background:#fbe3d5;line-height:11px;">3165</div>
<div class="c" style="left:694px;top:646px;width:41px;height:11px;background:#fbe3d5;line-height:11px;">149760</div>
<div class="c" style="left:399px;top:657px;width:27px;height:11px;line-height:11px;">12F</div>
<div class="c" style="left:426px;top:657px;width:50px;height:11px;background:#fdf0cd;line-height:11px;">4095</div>
<div class="c" style="left:476px;top:657px;width:40px;height:11px;background:#fdf0cd;line-height:11px;">152560</div>
<div class="c dk" style="left:516px;top:657px;width:32px;height:11px;background:#c45812;line-height:11px;">4976</div>
<div class="c dk" style="left:548px;top:657px;width:40px;height:11px;background:#c45812;line-height:11px;">162560</div>
<div class="c" style="left:588px;top:657px;width:32px;height:11px;background:#fdf0cd;line-height:11px;">4225</div>
<div class="c" style="left:620px;top:657px;width:41px;height:11px;background:#fdf0cd;line-height:11px;">142560</div>
<div class="c" style="left:661px;top:657px;width:33px;height:11px;background:#fbe3d5;line-height:11px;">3161</div>
<div class="c" style="left:694px;top:657px;width:41px;height:11px;background:#fbe3d5;line-height:11px;">149560</div>
<div class="c" style="left:399px;top:668px;width:27px;height:11px;line-height:11px;">11F</div>
<div class="c" style="left:426px;top:668px;width:50px;height:11px;background:#e6e4e4;line-height:11px;">4063</div>
<div class="c" style="left:476px;top:668px;width:40px;height:11px;background:#e6e4e4;line-height:11px;">151360</div>
<div class="c dk" style="left:516px;top:668px;width:32px;height:11px;background:#c45812;line-height:11px;">4940</div>
<div class="c dk" style="left:548px;top:668px;width:40px;height:11px;background:#c45812;line-height:11px;">161360</div>
<div class="c" style="left:588px;top:668px;width:32px;height:11px;background:#fdf0cd;line-height:11px;">4189</div>
<div class="c" style="left:620px;top:668px;width:41px;height:11px;background:#fdf0cd;line-height:11px;">141360</div>
<div class="c" style="left:661px;top:668px;width:33px;height:11px;background:#fbe3d5;line-height:11px;">3136</div>
<div class="c" style="left:694px;top:668px;width:41px;height:11px;background:#fbe3d5;line-height:11px;">148360</div>
<div class="c" style="left:399px;top:679px;width:27px;height:11px;line-height:11px;">10F</div>
<div class="c" style="left:426px;top:679px;width:309px;height:11px;background:#fffd00;line-height:11px;">避难层</div>
<div class="c" style="left:399px;top:690px;width:27px;height:11px;line-height:11px;">9F</div>
<div class="c" style="left:426px;top:690px;width:50px;height:11px;background:#e6e4e4;line-height:11px;">4027</div>
<div class="c" style="left:476px;top:690px;width:40px;height:11px;background:#e6e4e4;line-height:11px;">149860</div>
<div class="c dk" style="left:516px;top:690px;width:32px;height:11px;background:#c45812;line-height:13px;">4899</div>
<div class="c dk" style="left:548px;top:690px;width:40px;height:11px;background:#c45812;line-height:11px;">159860</div>
<div class="c" style="left:588px;top:690px;width:32px;height:11px;background:#fdf0cd;line-height:11px;">4134</div>
<div class="c" style="left:620px;top:690px;width:41px;height:11px;background:#fdf0cd;line-height:11px;">139860</div>
<div class="c" style="left:661px;top:690px;width:33px;height:11px;background:#fbe3d5;line-height:11px;">3095</div>
<div class="c" style="left:694px;top:690px;width:41px;height:11px;background:#fbe3d5;line-height:11px;">146860</div>
<div class="c" style="left:399px;top:701px;width:27px;height:11px;line-height:11px;">8F</div>
<div class="c" style="left:426px;top:701px;width:50px;height:11px;background:#e6e4e4;line-height:11px;">4062</div>
<div class="c" style="left:476px;top:701px;width:40px;height:11px;background:#e6e4e4;line-height:11px;">151160</div>
<div class="c dk" style="left:516px;top:701px;width:32px;height:11px;background:#c45812;line-height:11px;">4938</div>
<div class="c dk" style="left:548px;top:701px;width:40px;height:11px;background:#c45812;line-height:11px;">161160</div>
<div class="c" style="left:588px;top:701px;width:32px;height:11px;background:#fdf0cd;line-height:11px;">4173</div>
<div class="c" style="left:620px;top:701px;width:41px;height:11px;background:#fdf0cd;line-height:11px;">141160</div>
<div class="c" style="left:661px;top:701px;width:33px;height:11px;background:#fbe3d5;line-height:11px;">3122</div>
<div class="c" style="left:694px;top:701px;width:41px;height:11px;background:#fbe3d5;line-height:11px;">148160</div>
<div class="c" style="left:399px;top:712px;width:27px;height:11px;line-height:11px;">7F</div>
<div class="c" style="left:426px;top:712px;width:50px;height:11px;background:#e6e4e4;line-height:11px;">4057</div>
<div class="c" style="left:476px;top:712px;width:40px;height:11px;background:#e6e4e4;line-height:11px;">150960</div>
<div class="c dk" style="left:516px;top:712px;width:32px;height:11px;background:#c45812;line-height:13px;">4932</div>
<div class="c dk" style="left:548px;top:712px;width:40px;height:11px;background:#c45812;line-height:11px;">160960</div>
<div class="c" style="left:588px;top:712px;width:32px;height:11px;background:#fdf0cd;line-height:11px;">4167</div>
<div class="c" style="left:620px;top:712px;width:41px;height:11px;background:#fdf0cd;line-height:11px;">140960</div>
<div class="c" style="left:661px;top:712px;width:33px;height:11px;background:#fbe3d5;line-height:11px;">3118</div>
<div class="c" style="left:694px;top:712px;width:41px;height:11px;background:#fbe3d5;line-height:11px;">147960</div>
<div class="c" style="left:399px;top:723px;width:27px;height:11px;line-height:11px;">6F</div>
<div class="c" style="left:426px;top:723px;width:50px;height:11px;background:#e6e4e4;line-height:11px;">4052</div>
<div class="c" style="left:476px;top:723px;width:40px;height:11px;background:#e6e4e4;line-height:11px;">150760</div>
<div class="c dk" style="left:516px;top:723px;width:32px;height:11px;background:#c45812;line-height:11px;">4926</div>
<div class="c dk" style="left:548px;top:723px;width:40px;height:11px;background:#c45812;line-height:11px;">160760</div>
<div class="c" style="left:588px;top:723px;width:32px;height:11px;background:#fdf0cd;line-height:11px;">4161</div>
<div class="c" style="left:620px;top:723px;width:41px;height:11px;background:#fdf0cd;line-height:11px;">140760</div>
<div class="c" style="left:661px;top:723px;width:33px;height:11px;background:#fbe3d5;line-height:11px;">3114</div>
<div class="c" style="left:694px;top:723px;width:41px;height:11px;background:#fbe3d5;line-height:11px;">147760</div>
<div class="c" style="left:399px;top:734px;width:27px;height:11px;line-height:11px;">5F</div>
<div class="c" style="left:426px;top:734px;width:50px;height:11px;background:#e6e4e4;line-height:11px;">4046</div>
<div class="c" style="left:476px;top:734px;width:40px;height:11px;background:#e6e4e4;line-height:11px;">150560</div>
<div class="c dk" style="left:516px;top:734px;width:32px;height:11px;background:#c45812;line-height:11px;">4920</div>
<div class="c dk" style="left:548px;top:734px;width:40px;height:11px;background:#c45812;line-height:11px;">160560</div>
<div class="c" style="left:588px;top:734px;width:32px;height:11px;background:#fdf0cd;line-height:11px;">4155</div>
<div class="c" style="left:620px;top:734px;width:41px;height:11px;background:#fdf0cd;line-height:11px;">140560</div>
<div class="c" style="left:661px;top:734px;width:33px;height:11px;background:#fbe3d5;line-height:11px;">3110</div>
<div class="c" style="left:694px;top:734px;width:41px;height:11px;background:#fbe3d5;line-height:11px;">147560</div>
<div class="c" style="left:399px;top:745px;width:27px;height:11px;line-height:11px;">4F</div>
<div class="c" style="left:426px;top:745px;width:50px;height:11px;background:#e6e4e4;line-height:11px;">3772</div>
<div class="c" style="left:476px;top:745px;width:40px;height:11px;background:#e6e4e4;line-height:11px;">140360</div>
</div>
<svg class="ov" width="740" height="762" viewBox="0 0 740 762" fill="none"><path d="M399.30 5.25H734.80M399.30 16.30H734.80M399.30 27.35H734.80M399.30 38.39H734.80M399.30 49.37H734.80M399.30 60.35H734.80M399.30 71.33H734.80M399.30 82.31H734.80M399.30 93.29H734.80M399.30 104.29H734.80M399.30 115.29H734.80M399.30 126.29H734.80M399.30 137.29H734.80M425.60 5.25V148.29M475.80 5.25V148.29M516.50 5.25V148.29M548.30 5.25V82.31M588.40 5.25V148.29M620.20 5.25V148.29M660.60 5.25V148.29M694.40 5.25V93.29M694.40 115.29V148.29M734.80 5.25V148.29" stroke="#e9e9e9" stroke-width="1.2"/><path d="M5.40 5.25H399.30M5.40 16.30H399.30M5.40 27.35H145.20M5.40 38.39H145.20M5.40 49.37H258.40M5.40 60.35H258.40M5.40 71.33H258.40M5.40 82.31H258.40M5.40 93.29H258.40M5.40 104.29H258.40M5.40 115.29H258.40M5.40 126.29H258.40M5.40 137.29H399.30M5.40 148.29H328.50M399.30 148.29H734.80M29.50 159.29H328.50M399.30 159.29H734.80M5.40 170.30H328.50M399.30 170.30H516.50M5.40 181.30H328.50M399.30 181.30H516.50M5.40 192.30H328.50M425.60 192.30H660.60M5.40 203.30H328.50M425.60 203.30H660.60M5.40 214.30H328.50M399.30 214.30H660.60M5.40 225.40H328.50M399.30 225.40H660.60M5.40 236.52H328.50M399.30 236.52H660.60M5.40 247.65H328.50M399.30 247.65H660.60M5.40 258.77H328.50M399.30 258.77H660.60M5.40 269.89H328.50M399.30 269.89H660.60M5.40 280.98H328.50M399.30 280.98H660.60M5.40 292.07H328.50M399.30 292.07H660.60M5.40 303.16H328.50M399.30 303.16H660.60M5.40 314.25H328.50M399.30 314.25H660.60M5.40 325.28H328.50M399.30 325.28H660.60M5.40 336.32H328.50M399.30 336.32H734.80M5.40 347.35H734.80M5.40 358.39H734.80M5.40 369.42H734.80M5.40 380.45H734.80M5.40 391.53H734.80M5.40 402.61H734.80M5.40 413.68H734.80M5.40 424.76H734.80M5.40 435.84H734.80M5.40 446.91H734.80M5.40 457.99H734.80M5.40 469.07H734.80M5.40 480.14H734.80M5.40 491.22H734.80M5.40 502.30H734.80M5.40 513.35H734.80M5.40 524.40H734.80M5.40 535.45H734.80M5.40 546.50H734.80M5.40 557.55H734.80M5.40 568.60H734.80M5.40 579.65H734.80M5.40 590.70H734.80M5.40 601.75H734.80M5.40 612.80H734.80M5.40 623.85H734.80M5.40 634.90H734.80M5.40 645.95H734.80M5.40 657.00H734.80M5.40 668.05H734.80M5.40 679.10H734.80M5.40 690.15H734.80M5.40 701.20H734.80M5.40 712.25H734.80M5.40 723.30H734.80M5.40 734.35H734.80M5.40 745.40H734.80M5.40 756.45H734.80" stroke="#000" stroke-opacity="0.74" stroke-width="1.12"/><path d="M5.40 5.25V756.45M29.50 5.25V756.45M83.90 27.35V49.37M83.90 71.33V137.29M83.90 170.30V336.32M83.90 358.39V513.35M83.90 524.40V679.10M83.90 690.15V756.45M145.20 16.30V137.29M145.20 148.29V336.32M145.20 347.35V513.35M145.20 524.40V679.10M145.20 690.15V756.45M197.50 71.33V137.29M197.50 170.30V336.32M197.50 347.35V513.35M197.50 524.40V679.10M197.50 690.15V745.40M258.40 16.30V137.29M258.40 148.29V336.32M258.40 347.35V513.35M258.40 524.40V679.10M258.40 690.15V745.40M288.50 170.30V336.32M288.50 358.39V513.35M288.50 524.40V679.10M288.50 690.15V745.40M328.50 347.35V513.35M328.50 524.40V679.10M328.50 690.15V745.40M358.90 358.39V513.35M358.90 524.40V679.10M358.90 690.15V745.40M399.30 5.25V16.30M425.60 148.29V756.45M475.80 170.30V192.30M475.80 203.30V336.32M475.80 358.39V513.35M475.80 524.40V679.10M475.80 690.15V756.45M516.50 159.29V336.32M516.50 347.35V513.35M516.50 524.40V679.10M516.50 690.15V756.45M548.30 203.30V336.32M548.30 358.39V513.35M548.30 524.40V679.10M548.30 690.15V745.40M588.40 192.30V336.32M588.40 347.35V513.35M588.40 524.40V679.10M588.40 690.15V745.40M620.20 203.30V336.32M620.20 358.39V513.35M620.20 524.40V679.10M620.20 690.15V745.40M660.60 159.29V336.32M660.60 347.35V513.35M660.60 524.40V679.10M660.60 690.15V745.40M694.40 358.39V513.35M694.40 524.40V679.10M694.40 690.15V745.40M734.80 148.29V756.45" stroke="#000" stroke-opacity="0.74" stroke-width="1.12"/><path d="M399.20 16.30V756.45" stroke="#7d7d7d" stroke-width="1.7"/><path d="M517.2 724.2h2.6l-2.6 2.6z" fill="#2f8f4e"/><text x="562.4" y="751.4" font-family="'Liberation Sans','Noto Sans CJK SC',sans-serif" font-size="14.5" font-weight="700" fill="#2a2a2a" stroke="#2a2a2a" stroke-width="0.44" stroke-linejoin="round" opacity="0.9" textLength="159.6" lengthAdjust="spacing">搜狐号@搜狐焦点邵阳站</text><text x="561.6" y="750.6" font-family="'Liberation Sans','Noto Sans CJK SC',sans-serif" font-size="14.5" font-weight="700" fill="#fff" textLength="159.6" lengthAdjust="spacing">搜狐号@搜狐焦点邵阳站</text></svg>
</body></html>
